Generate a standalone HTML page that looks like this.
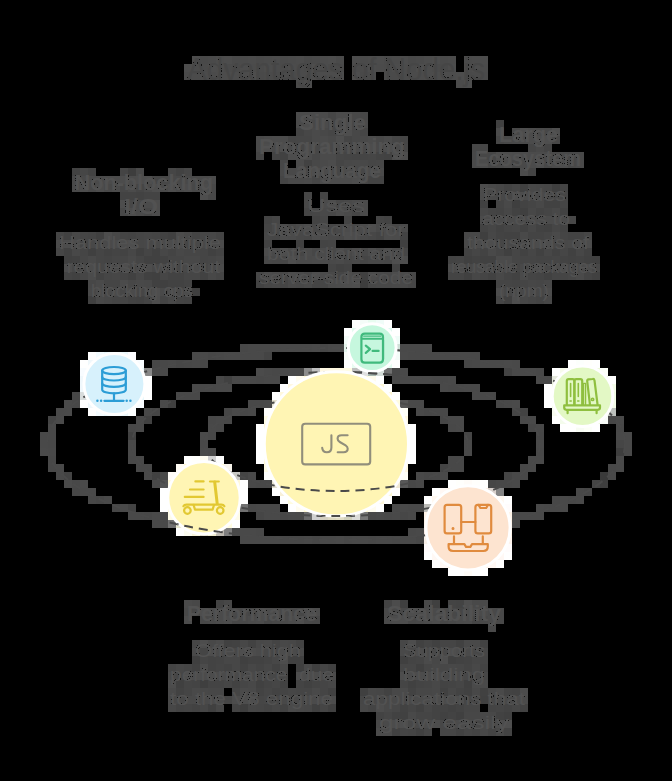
<!DOCTYPE html>
<html><head><meta charset="utf-8"><title>Advantages of Node.js</title>
<style>html,body{margin:0;padding:0;background:#000;overflow:hidden}svg{display:block}</style></head>
<body>
<svg width="672" height="781" viewBox="0 0 672 781">
<rect width="672" height="781" fill="#000"/>
<g shape-rendering="crispEdges"><path fill="#4c4c4c" d="M192 56h8v8h-8zM216 56h8v8h-8zM248 56h8v8h-8zM272 56h8v8h-8zM296 56h8v8h-8zM320 56h8v8h-8zM352 56h8v8h-8zM376 56h8v8h-8zM400 56h8v8h-8zM424 56h8v8h-8zM480 56h8v8h-8zM184 64h8v8h-8zM216 64h8v8h-8zM240 64h8v8h-8zM264 64h8v8h-8zM288 64h8v8h-8zM320 64h8v8h-8zM368 64h8v8h-8zM392 64h8v8h-8zM424 64h8v8h-8zM448 64h8v8h-8zM472 64h8v8h-8zM216 72h32v8h-32zM320 72h24v8h-24zM424 72h32v8h-32zM304 80h8v8h-8zM344 120h8v8h-8zM272 136h16v8h-16zM536 136h8v8h-8zM336 144h8v8h-8zM352 144h8v8h-8zM304 152h8v8h-8zM512 152h16v8h-16zM328 160h8v8h-8zM480 160h8v8h-8zM504 160h8v8h-8zM344 168h8v8h-8zM368 168h8v8h-8zM520 168h8v8h-8zM120 176h16v8h-16zM328 176h24v8h-24zM80 184h8v8h-8zM96 184h8v8h-8zM184 184h8v8h-8zM200 184h8v8h-8zM480 184h8v8h-8zM520 192h8v8h-8zM152 200h8v8h-8zM152 208h8v8h-8zM280 224h8v8h-8zM344 224h8v8h-8zM384 224h8v8h-8zM176 232h8v8h-8zM280 232h8v8h-8zM352 232h8v8h-8zM384 232h8v8h-8zM64 240h8v8h-8zM120 240h8v8h-8zM168 240h8v8h-8zM480 240h8v8h-8zM536 240h8v8h-8zM584 240h8v8h-8zM336 248h8v8h-8zM352 248h8v8h-8zM64 264h8v8h-8zM88 264h8v8h-8zM168 264h8v8h-8zM192 264h8v8h-8zM480 264h8v8h-8zM504 264h8v8h-8zM584 264h8v8h-8zM264 272h8v8h-8zM344 272h8v8h-8zM368 272h8v8h-8zM336 280h8v8h-8zM96 288h8v8h-8zM184 288h8v8h-8zM496 288h8v8h-8zM512 288h8v8h-8zM392 600h8v8h-8zM208 608h8v8h-8zM264 608h8v8h-8zM312 608h8v8h-8zM416 608h8v8h-8zM472 608h8v8h-8zM184 616h8v8h-8zM256 616h8v8h-8zM288 616h8v8h-8zM392 616h8v8h-8zM464 616h8v8h-8zM248 648h8v8h-8zM280 648h8v8h-8zM456 648h8v8h-8zM200 672h16v8h-16zM304 672h16v8h-16zM408 672h16v8h-16zM168 680h8v8h-8zM520 688h8v8h-8zM232 696h8v8h-8zM328 696h8v8h-8zM432 696h16v8h-16zM392 720h8v8h-8zM464 720h8v8h-8zM496 720h8v8h-8z"/><path fill="#494949" d="M200 56h8v8h-8zM304 56h8v8h-8zM408 56h8v8h-8zM232 64h8v8h-8zM336 64h8v8h-8zM440 64h8v8h-8zM256 72h8v8h-8zM360 72h8v8h-8zM464 72h8v8h-8zM336 120h8v8h-8zM536 128h8v8h-8zM256 136h8v8h-8zM328 136h8v8h-8zM360 136h8v8h-8zM512 136h8v8h-8zM256 144h8v8h-8zM272 144h8v8h-8zM360 144h8v8h-8zM376 144h8v8h-8zM552 152h16v8h-16zM352 160h8v8h-8zM496 160h8v8h-8zM520 160h8v8h-8zM136 168h8v8h-8zM288 168h8v8h-8zM328 168h8v8h-8zM352 168h8v8h-8zM80 176h16v8h-16zM184 176h16v8h-16zM288 176h16v8h-16zM72 184h8v8h-8zM160 184h8v8h-8zM176 184h8v8h-8zM488 184h8v8h-8zM488 192h8v8h-8zM544 192h8v8h-8zM136 200h8v8h-8zM344 200h8v8h-8zM504 200h8v8h-8zM320 208h8v8h-8zM272 224h8v8h-8zM336 224h8v8h-8zM376 224h8v8h-8zM184 232h8v8h-8zM328 232h8v8h-8zM360 232h8v8h-8zM520 232h8v8h-8zM96 240h8v8h-8zM152 240h8v8h-8zM200 240h8v8h-8zM464 240h8v8h-8zM512 240h8v8h-8zM568 240h8v8h-8zM272 248h8v8h-8zM376 248h8v8h-8zM488 248h8v8h-8zM88 256h8v8h-8zM128 256h8v8h-8zM328 256h8v8h-8zM352 256h8v8h-8zM80 264h8v8h-8zM104 264h8v8h-8zM184 264h8v8h-8zM208 264h8v8h-8zM496 264h8v8h-8zM520 264h8v8h-8zM328 272h8v8h-8zM352 272h8v8h-8zM136 280h8v8h-8zM288 280h8v8h-8zM392 280h16v8h-16zM160 288h8v8h-8zM176 288h8v8h-8zM96 296h8v8h-8zM248 344h64v8h-64zM328 344h16v8h-16zM400 344h32v8h-32zM192 352h16v8h-16zM224 352h40v8h-40zM408 352h72v8h-72zM168 360h8v8h-8zM192 360h8v8h-8zM480 360h24v8h-24zM512 360h8v8h-8zM160 368h8v8h-8zM264 368h8v8h-8zM280 368h24v8h-24zM400 368h8v8h-8zM512 368h24v8h-24zM232 376h24v8h-24zM264 376h16v8h-16zM392 376h40v8h-40zM448 376h8v8h-8zM536 376h16v8h-16zM192 384h8v8h-8zM216 384h16v8h-16zM440 384h8v8h-8zM464 384h16v8h-16zM160 400h8v8h-8zM264 400h8v8h-8zM408 400h16v8h-16zM504 400h8v8h-8zM56 408h8v8h-8zM248 408h8v8h-8zM416 408h8v8h-8zM136 416h8v8h-8zM216 416h8v8h-8zM448 416h16v8h-16zM520 416h16v8h-16zM616 416h8v8h-8zM48 424h8v8h-8zM136 424h8v8h-8zM208 424h8v8h-8zM456 424h8v8h-8zM40 432h16v8h-16zM616 432h16v8h-16zM40 440h8v8h-8zM128 440h8v8h-8zM464 440h8v8h-8zM536 440h8v8h-8zM624 440h8v8h-8zM48 448h8v8h-8zM128 448h8v8h-8zM200 448h8v8h-8zM464 448h8v8h-8zM624 448h8v8h-8zM528 456h16v8h-16zM616 456h8v8h-8zM56 464h8v8h-8zM528 464h8v8h-8zM616 464h8v8h-8zM56 472h8v8h-8zM144 472h8v8h-8zM160 472h8v8h-8zM248 472h8v8h-8zM416 472h8v8h-8zM608 472h8v8h-8zM152 480h8v8h-8zM248 480h8v8h-8zM416 480h8v8h-8zM512 480h8v8h-8zM80 488h16v8h-16zM104 496h8v8h-8zM560 496h8v8h-8zM576 496h8v8h-8zM120 504h8v8h-8zM256 504h24v8h-24zM392 504h8v8h-8zM408 504h16v8h-16zM536 504h8v8h-8zM560 504h8v8h-8zM128 512h16v8h-16zM160 512h8v8h-8zM264 512h16v8h-16zM288 512h16v8h-16zM376 512h8v8h-8zM392 512h8v8h-8zM408 512h8v8h-8zM512 512h32v8h-32zM152 520h16v8h-16zM232 528h24v8h-24zM416 528h8v8h-8zM240 536h40v8h-40zM304 536h8v8h-8zM320 536h16v8h-16zM352 536h16v8h-16zM376 536h16v8h-16zM400 536h16v8h-16zM424 600h8v8h-8zM472 600h16v8h-16zM232 608h8v8h-8zM280 608h8v8h-8zM384 608h8v8h-8zM440 608h8v8h-8zM488 608h8v8h-8zM208 616h8v8h-8zM240 616h8v8h-8zM416 616h8v8h-8zM448 616h8v8h-8zM488 624h8v8h-8zM264 640h8v8h-8zM464 640h16v8h-16zM192 648h8v8h-8zM224 648h8v8h-8zM296 648h8v8h-8zM400 648h8v8h-8zM432 648h8v8h-8zM304 664h8v8h-8zM240 672h16v8h-16zM448 672h16v8h-16zM168 688h8v8h-8zM192 688h8v8h-8zM248 688h8v8h-8zM312 688h8v8h-8zM184 696h16v8h-16zM288 696h16v8h-16zM392 696h16v8h-16zM496 696h16v8h-16zM384 704h8v8h-8zM408 712h8v8h-8zM416 720h8v8h-8zM448 720h8v8h-8z"/><path fill="#4a4a4a" d="M208 56h8v8h-8zM232 56h8v8h-8zM256 56h8v8h-8zM280 56h8v8h-8zM312 56h8v8h-8zM336 56h8v8h-8zM360 56h8v8h-8zM384 56h8v8h-8zM416 56h8v8h-8zM440 56h8v8h-8zM464 56h8v8h-8zM200 64h8v8h-8zM224 64h8v8h-8zM256 64h8v8h-8zM280 64h8v8h-8zM304 64h8v8h-8zM328 64h8v8h-8zM360 64h8v8h-8zM384 64h8v8h-8zM408 64h8v8h-8zM432 64h8v8h-8zM464 64h8v8h-8zM184 72h8v8h-8zM264 72h32v8h-32zM368 72h8v8h-8zM384 72h16v8h-16zM472 72h16v8h-16zM296 80h8v8h-8zM296 120h8v8h-8zM312 128h8v8h-8zM312 136h8v8h-8zM520 136h8v8h-8zM288 144h8v8h-8zM392 144h8v8h-8zM544 152h8v8h-8zM320 160h8v8h-8zM472 160h8v8h-8zM576 160h8v8h-8zM376 168h8v8h-8zM96 176h8v8h-8zM200 176h8v8h-8zM304 176h8v8h-8zM144 184h8v8h-8zM536 192h8v8h-8zM136 208h8v8h-8zM344 208h8v8h-8zM296 224h8v8h-8zM400 224h8v8h-8zM552 232h8v8h-8zM104 240h8v8h-8zM208 240h8v8h-8zM520 240h8v8h-8zM288 248h8v8h-8zM392 248h8v8h-8zM296 256h16v8h-16zM336 256h8v8h-8zM160 264h8v8h-8zM472 264h8v8h-8zM576 264h8v8h-8zM272 272h8v8h-8zM376 272h8v8h-8zM520 272h8v8h-8zM576 272h8v8h-8zM96 280h8v8h-8zM304 280h8v8h-8zM144 288h8v8h-8zM312 344h8v8h-8zM400 352h8v8h-8zM504 360h8v8h-8zM472 392h8v8h-8zM64 400h8v8h-8zM512 400h8v8h-8zM64 408h8v8h-8zM232 408h8v8h-8zM56 416h8v8h-8zM200 432h8v8h-8zM40 448h8v8h-8zM440 472h8v8h-8zM80 480h8v8h-8zM400 504h8v8h-8zM152 512h8v8h-8zM336 536h8v8h-8zM184 600h8v8h-8zM224 608h8v8h-8zM432 608h8v8h-8zM280 616h8v8h-8zM384 616h8v8h-8zM488 616h8v8h-8zM256 648h8v8h-8zM464 648h8v8h-8zM232 672h8v8h-8zM440 672h8v8h-8zM472 680h16v8h-16zM240 688h8v8h-8zM400 688h8v8h-8zM496 688h8v8h-8zM200 696h8v8h-8zM304 696h8v8h-8zM408 696h8v8h-8zM512 696h8v8h-8zM288 704h8v8h-8zM384 720h8v8h-8zM488 720h8v8h-8z"/><path fill="#4d4d4d" d="M224 56h8v8h-8zM328 56h8v8h-8zM432 56h8v8h-8zM208 64h8v8h-8zM312 64h8v8h-8zM416 64h8v8h-8zM248 72h8v8h-8zM352 72h8v8h-8zM456 72h8v8h-8zM464 80h8v8h-8zM304 120h8v8h-8zM520 128h8v8h-8zM264 144h8v8h-8zM368 144h8v8h-8zM288 152h16v8h-16zM400 152h8v8h-8zM504 152h8v8h-8zM560 160h8v8h-8zM136 176h8v8h-8zM168 184h8v8h-8zM120 200h8v8h-8zM328 200h8v8h-8zM128 208h8v8h-8zM336 208h8v8h-8zM304 224h8v8h-8zM104 232h8v8h-8zM312 232h8v8h-8zM72 240h8v8h-8zM176 240h8v8h-8zM488 240h8v8h-8zM264 248h8v8h-8zM368 248h8v8h-8zM400 256h8v8h-8zM144 264h8v8h-8zM456 264h8v8h-8zM560 264h8v8h-8zM288 272h8v8h-8zM392 272h8v8h-8zM344 280h8v8h-8zM168 288h8v8h-8zM152 296h8v8h-8zM256 608h8v8h-8zM464 608h8v8h-8zM224 616h8v8h-8zM432 616h8v8h-8zM200 640h8v8h-8zM408 640h8v8h-8zM208 648h8v8h-8zM416 648h8v8h-8zM280 656h8v8h-8zM192 672h8v8h-8zM296 672h8v8h-8zM400 672h8v8h-8zM240 696h8v8h-8zM448 696h8v8h-8zM376 704h8v8h-8zM432 720h8v8h-8z"/><path fill="#4b4b4b" d="M240 56h8v8h-8zM264 56h8v8h-8zM288 56h8v8h-8zM368 56h8v8h-8zM392 56h8v8h-8zM448 56h8v8h-8zM472 56h8v8h-8zM192 64h8v8h-8zM248 64h8v8h-8zM272 64h8v8h-8zM296 64h8v8h-8zM352 64h8v8h-8zM376 64h8v8h-8zM400 64h8v8h-8zM480 64h8v8h-8zM192 72h24v8h-24zM296 72h24v8h-24zM400 72h24v8h-24zM456 80h8v8h-8zM296 112h32v8h-32zM336 112h16v8h-16zM320 120h8v8h-8zM360 120h8v8h-8zM496 128h8v8h-8zM528 128h8v8h-8zM264 136h8v8h-8zM320 136h8v8h-8zM368 136h8v8h-8zM384 136h8v8h-8zM528 136h8v8h-8zM304 144h8v8h-8zM320 144h8v8h-8zM320 152h16v8h-16zM528 152h16v8h-16zM296 160h8v8h-8zM528 160h8v8h-8zM552 160h8v8h-8zM296 168h8v8h-8zM320 168h8v8h-8zM104 176h16v8h-16zM208 176h8v8h-8zM320 176h8v8h-8zM112 184h8v8h-8zM128 184h8v8h-8zM480 192h8v8h-8zM528 192h8v8h-8zM144 200h8v8h-8zM320 200h8v8h-8zM352 200h16v8h-16zM360 208h8v8h-8zM480 216h88v8h-88zM320 224h8v8h-8zM360 224h8v8h-8zM288 232h8v8h-8zM320 232h8v8h-8zM392 232h8v8h-8zM56 240h8v8h-8zM112 240h8v8h-8zM160 240h8v8h-8zM216 240h8v8h-8zM472 240h8v8h-8zM528 240h8v8h-8zM576 240h8v8h-8zM304 248h8v8h-8zM320 248h8v8h-8zM312 256h16v8h-16zM496 256h16v8h-16zM112 264h8v8h-8zM136 264h8v8h-8zM216 264h8v8h-8zM448 264h8v8h-8zM528 264h8v8h-8zM552 264h8v8h-8zM88 272h8v8h-8zM296 272h8v8h-8zM320 272h8v8h-8zM400 272h8v8h-8zM120 280h8v8h-8zM328 280h8v8h-8zM112 288h8v8h-8zM128 288h8v8h-8zM528 288h8v8h-8zM544 288h8v8h-8zM256 368h8v8h-8zM64 480h8v8h-8zM216 608h8v8h-8zM272 608h8v8h-8zM424 608h8v8h-8zM480 608h8v8h-8zM216 616h8v8h-8zM248 616h8v8h-8zM424 616h8v8h-8zM456 616h8v8h-8zM216 640h8v8h-8zM216 648h8v8h-8zM288 648h8v8h-8zM424 648h8v8h-8zM424 656h8v8h-8zM200 664h8v8h-8zM216 672h16v8h-16zM320 672h16v8h-16zM424 672h16v8h-16zM208 696h16v8h-16zM312 696h16v8h-16zM416 696h16v8h-16zM520 696h8v8h-8zM424 720h8v8h-8zM456 720h8v8h-8zM376 728h16v8h-16z"/><path fill="#464646" d="M328 112h8v8h-8zM328 120h8v8h-8zM328 128h8v8h-8zM360 128h8v8h-8zM296 136h16v8h-16zM392 136h8v8h-8zM496 136h8v8h-8zM296 144h8v8h-8zM400 144h8v8h-8zM480 144h8v8h-8zM336 152h8v8h-8zM368 152h8v8h-8zM488 152h8v8h-8zM368 160h8v8h-8zM512 160h8v8h-8zM80 168h8v8h-8zM168 168h8v8h-8zM184 168h8v8h-8zM336 168h8v8h-8zM152 176h8v8h-8zM312 176h8v8h-8zM360 176h8v8h-8zM136 184h8v8h-8zM512 184h8v8h-8zM544 184h8v8h-8zM304 192h8v8h-8zM560 192h8v8h-8zM312 208h8v8h-8zM352 208h8v8h-8zM272 216h8v8h-8zM328 224h8v8h-8zM488 224h8v8h-8zM512 224h8v8h-8zM552 224h8v8h-8zM144 232h8v8h-8zM272 232h8v8h-8zM544 232h8v8h-8zM584 232h8v8h-8zM80 240h8v8h-8zM184 240h8v8h-8zM496 240h8v8h-8zM56 248h8v8h-8zM184 248h16v8h-16zM296 248h8v8h-8zM400 248h8v8h-8zM472 248h8v8h-8zM512 248h8v8h-8zM528 248h8v8h-8zM560 248h8v8h-8zM80 256h8v8h-8zM112 256h16v8h-16zM168 256h16v8h-16zM208 256h8v8h-8zM280 256h8v8h-8zM384 256h8v8h-8zM512 256h8v8h-8zM96 264h8v8h-8zM200 264h8v8h-8zM512 264h8v8h-8zM80 272h8v8h-8zM104 272h8v8h-8zM160 272h8v8h-8zM184 272h16v8h-16zM336 272h8v8h-8zM320 280h8v8h-8zM408 280h8v8h-8zM536 280h8v8h-8zM136 288h8v8h-8zM496 296h8v8h-8zM224 408h8v8h-8zM512 408h8v8h-8zM440 416h8v8h-8zM528 424h8v8h-8zM616 440h8v8h-8zM488 480h8v8h-8zM584 488h8v8h-8zM96 496h8v8h-8zM112 504h8v8h-8zM256 512h8v8h-8zM248 608h8v8h-8zM456 608h8v8h-8zM264 616h8v8h-8zM472 616h8v8h-8zM192 640h8v8h-8zM272 648h8v8h-8zM480 648h8v8h-8zM472 656h8v8h-8zM400 664h16v8h-16zM424 664h8v8h-8zM176 672h8v8h-8zM280 672h8v8h-8zM224 680h8v8h-8zM240 680h8v8h-8zM272 680h8v8h-8zM456 680h8v8h-8zM264 688h8v8h-8zM288 688h8v8h-8zM376 688h8v8h-8zM256 696h8v8h-8zM360 696h8v8h-8zM464 696h8v8h-8zM200 704h8v8h-8zM248 704h8v8h-8zM272 704h8v8h-8zM464 704h16v8h-16zM512 704h8v8h-8zM384 712h8v8h-8zM472 720h8v8h-8zM440 728h16v8h-16zM464 728h8v8h-8z"/><path fill="#484848" d="M352 112h8v8h-8zM312 120h8v8h-8zM352 120h8v8h-8zM320 128h8v8h-8zM336 128h8v8h-8zM352 128h8v8h-8zM544 128h8v8h-8zM352 136h8v8h-8zM376 136h8v8h-8zM504 136h8v8h-8zM328 144h8v8h-8zM344 144h8v8h-8zM536 144h8v8h-8zM472 152h8v8h-8zM568 152h16v8h-16zM312 160h8v8h-8zM344 160h8v8h-8zM360 160h8v8h-8zM544 160h8v8h-8zM568 160h8v8h-8zM280 168h8v8h-8zM304 168h8v8h-8zM72 176h8v8h-8zM168 176h16v8h-16zM88 184h8v8h-8zM104 184h8v8h-8zM192 184h8v8h-8zM208 184h8v8h-8zM528 184h8v8h-8zM208 192h8v8h-8zM496 192h8v8h-8zM552 192h8v8h-8zM304 200h8v8h-8zM536 200h8v8h-8zM120 208h8v8h-8zM328 208h8v8h-8zM552 208h8v8h-8zM312 224h8v8h-8zM352 224h8v8h-8zM72 232h8v8h-8zM112 232h8v8h-8zM296 232h8v8h-8zM336 232h8v8h-8zM464 232h16v8h-16zM88 240h8v8h-8zM144 240h8v8h-8zM192 240h8v8h-8zM504 240h8v8h-8zM560 240h8v8h-8zM72 248h8v8h-8zM176 248h8v8h-8zM328 248h8v8h-8zM344 248h8v8h-8zM360 248h8v8h-8zM184 256h16v8h-16zM216 256h8v8h-8zM264 256h8v8h-8zM128 264h8v8h-8zM152 264h8v8h-8zM464 264h8v8h-8zM544 264h8v8h-8zM568 264h8v8h-8zM208 272h8v8h-8zM280 272h8v8h-8zM304 272h8v8h-8zM384 272h8v8h-8zM408 272h8v8h-8zM496 272h8v8h-8zM144 280h8v8h-8zM272 280h8v8h-8zM296 280h8v8h-8zM376 280h16v8h-16zM544 280h8v8h-8zM88 288h8v8h-8zM104 288h8v8h-8zM504 288h8v8h-8zM520 288h8v8h-8zM168 296h8v8h-8zM240 344h8v8h-8zM216 352h8v8h-8zM160 360h8v8h-8zM184 360h8v8h-8zM472 360h8v8h-8zM152 368h8v8h-8zM272 368h8v8h-8zM392 368h8v8h-8zM536 368h8v8h-8zM256 376h8v8h-8zM432 376h16v8h-16zM200 384h16v8h-16zM448 384h16v8h-16zM176 392h24v8h-24zM480 392h16v8h-16zM72 400h8v8h-8zM248 400h16v8h-16zM144 408h8v8h-8zM240 408h8v8h-8zM432 408h16v8h-16zM208 416h8v8h-8zM224 416h8v8h-8zM128 424h8v8h-8zM216 424h8v8h-8zM448 424h8v8h-8zM536 424h8v8h-8zM616 424h8v8h-8zM208 432h8v8h-8zM48 440h8v8h-8zM200 440h8v8h-8zM208 448h8v8h-8zM536 448h8v8h-8zM48 456h8v8h-8zM128 456h16v8h-16zM448 456h16v8h-16zM48 464h8v8h-8zM136 464h16v8h-16zM448 464h16v8h-16zM520 464h8v8h-8zM608 464h8v8h-8zM432 472h8v8h-8zM512 472h16v8h-16zM72 480h8v8h-8zM256 480h16v8h-16zM496 480h16v8h-16zM576 488h8v8h-8zM88 496h8v8h-8zM568 496h8v8h-8zM248 504h8v8h-8zM544 504h16v8h-16zM144 512h8v8h-8zM368 512h8v8h-8zM384 512h8v8h-8zM512 520h8v8h-8zM256 528h8v8h-8zM408 528h8v8h-8zM280 536h24v8h-24zM344 536h8v8h-8zM368 536h8v8h-8zM392 536h8v8h-8zM192 600h8v8h-8zM184 608h8v8h-8zM240 608h8v8h-8zM288 608h8v8h-8zM392 608h8v8h-8zM448 608h8v8h-8zM496 608h8v8h-8zM200 616h8v8h-8zM272 616h8v8h-8zM304 616h8v8h-8zM408 616h8v8h-8zM480 616h8v8h-8zM496 616h8v8h-8zM208 640h8v8h-8zM256 640h8v8h-8zM280 640h8v8h-8zM232 648h8v8h-8zM264 648h8v8h-8zM440 648h8v8h-8zM472 648h8v8h-8zM280 664h8v8h-8zM432 664h8v8h-8zM448 664h8v8h-8zM472 664h8v8h-8zM256 672h16v8h-16zM464 672h16v8h-16zM248 680h8v8h-8zM432 680h8v8h-8zM200 688h8v8h-8zM392 688h8v8h-8zM432 688h8v8h-8zM472 688h8v8h-8zM488 688h8v8h-8zM168 696h16v8h-16zM272 696h16v8h-16zM376 696h16v8h-16zM488 696h8v8h-8zM296 704h8v8h-8zM480 712h16v8h-16zM376 720h8v8h-8zM408 720h8v8h-8zM480 720h8v8h-8zM480 728h8v8h-8zM496 728h8v8h-8z"/><path fill="#474747" d="M360 112h8v8h-8zM304 128h8v8h-8zM512 128h8v8h-8zM552 136h8v8h-8zM312 144h8v8h-8zM472 144h8v8h-8zM312 152h8v8h-8zM480 152h8v8h-8zM280 160h8v8h-8zM376 160h8v8h-8zM488 160h8v8h-8zM360 168h8v8h-8zM160 176h8v8h-8zM120 184h8v8h-8zM496 184h8v8h-8zM536 184h8v8h-8zM504 192h8v8h-8zM128 200h8v8h-8zM336 200h8v8h-8zM144 208h8v8h-8zM480 208h8v8h-8zM504 208h8v8h-8zM528 208h8v8h-8zM320 216h8v8h-8zM568 216h8v8h-8zM288 224h8v8h-8zM392 224h8v8h-8zM528 224h8v8h-8zM200 232h16v8h-16zM264 232h8v8h-8zM304 232h8v8h-8zM368 232h8v8h-8zM488 232h8v8h-8zM136 240h8v8h-8zM552 240h8v8h-8zM128 248h8v8h-8zM160 248h8v8h-8zM312 248h8v8h-8zM544 248h8v8h-8zM576 248h8v8h-8zM272 256h8v8h-8zM344 256h8v8h-8zM368 256h16v8h-16zM72 264h8v8h-8zM176 264h8v8h-8zM488 264h8v8h-8zM592 264h8v8h-8zM112 272h8v8h-8zM136 272h8v8h-8zM256 272h8v8h-8zM472 272h8v8h-8zM568 272h8v8h-8zM88 280h8v8h-8zM128 280h8v8h-8zM264 280h8v8h-8zM368 280h8v8h-8zM528 280h8v8h-8zM120 288h8v8h-8zM536 288h8v8h-8zM104 296h8v8h-8zM520 296h8v8h-8zM544 296h8v8h-8zM320 344h8v8h-8zM208 352h8v8h-8zM152 360h8v8h-8zM176 360h8v8h-8zM200 360h8v8h-8zM464 360h8v8h-8zM216 376h8v8h-8zM72 392h8v8h-8zM496 400h8v8h-8zM424 408h8v8h-8zM608 416h8v8h-8zM536 432h8v8h-8zM424 472h8v8h-8zM408 480h8v8h-8zM72 488h8v8h-8zM552 496h8v8h-8zM280 512h8v8h-8zM400 512h8v8h-8zM312 536h8v8h-8zM416 536h8v8h-8zM224 600h8v8h-8zM192 608h8v8h-8zM296 608h8v8h-8zM400 608h8v8h-8zM232 616h8v8h-8zM312 616h8v8h-8zM440 616h8v8h-8zM240 640h8v8h-8zM288 640h8v8h-8zM400 640h8v8h-8zM408 648h8v8h-8zM224 656h16v8h-16zM272 656h8v8h-8zM432 656h8v8h-8zM176 664h8v8h-8zM232 664h8v8h-8zM248 664h8v8h-8zM264 664h8v8h-8zM440 664h8v8h-8zM456 664h8v8h-8zM168 672h8v8h-8zM272 672h8v8h-8zM480 672h8v8h-8zM328 680h8v8h-8zM208 688h16v8h-16zM368 688h8v8h-8zM416 688h16v8h-16zM448 688h8v8h-8zM264 696h8v8h-8zM368 696h8v8h-8zM472 696h8v8h-8zM168 704h8v8h-8zM216 704h8v8h-8zM304 704h8v8h-8zM360 704h8v8h-8zM392 704h8v8h-8zM424 704h8v8h-8zM464 712h16v8h-16zM440 720h8v8h-8z"/><path fill="#414141" d="M496 120h8v8h-8zM280 152h8v8h-8zM480 200h8v8h-8zM544 224h8v8h-8zM64 232h8v8h-8zM64 248h8v8h-8zM152 248h8v8h-8zM208 248h8v8h-8zM536 248h8v8h-8zM568 248h8v8h-8zM72 256h8v8h-8zM144 256h16v8h-16zM480 256h16v8h-16zM584 256h8v8h-8zM336 264h8v8h-8zM72 272h8v8h-8zM128 272h8v8h-8zM144 272h8v8h-8zM544 272h8v8h-8zM592 272h8v8h-8zM152 280h8v8h-8zM136 296h8v8h-8zM224 376h8v8h-8zM144 416h8v8h-8zM128 432h8v8h-8zM152 472h8v8h-8zM224 640h8v8h-8zM416 640h8v8h-8zM432 640h8v8h-8zM456 640h8v8h-8zM192 664h8v8h-8zM328 664h8v8h-8zM256 680h8v8h-8zM304 680h8v8h-8zM408 680h8v8h-8zM328 688h8v8h-8zM440 688h8v8h-8zM464 688h8v8h-8zM480 688h8v8h-8zM416 704h8v8h-8zM448 704h8v8h-8zM400 712h8v8h-8zM440 712h8v8h-8zM392 728h8v8h-8z"/><path fill="#434343" d="M296 128h8v8h-8zM376 152h8v8h-8zM368 176h16v8h-16zM504 184h8v8h-8zM120 192h16v8h-16zM520 200h8v8h-8zM496 208h8v8h-8zM536 208h8v8h-8zM264 216h8v8h-8zM312 216h8v8h-8zM384 216h8v8h-8zM480 224h8v8h-8zM560 224h8v8h-8zM128 232h8v8h-8zM400 232h8v8h-8zM496 232h8v8h-8zM568 232h16v8h-16zM264 240h8v8h-8zM120 248h8v8h-8zM480 248h8v8h-8zM448 256h8v8h-8zM560 256h8v8h-8zM576 256h8v8h-8zM344 264h8v8h-8zM64 272h8v8h-8zM168 272h16v8h-16zM256 280h8v8h-8zM184 296h8v8h-8zM536 296h8v8h-8zM504 368h8v8h-8zM520 408h8v8h-8zM64 472h8v8h-8zM128 504h8v8h-8zM216 600h8v8h-8zM384 600h8v8h-8zM456 600h8v8h-8zM296 640h8v8h-8zM208 656h8v8h-8zM464 656h8v8h-8zM208 664h8v8h-8zM224 664h8v8h-8zM480 664h8v8h-8zM440 680h8v8h-8zM256 688h8v8h-8zM272 688h8v8h-8zM408 688h8v8h-8zM456 688h8v8h-8zM504 688h8v8h-8zM176 704h8v8h-8zM232 704h8v8h-8zM264 704h8v8h-8zM432 704h16v8h-16zM456 704h8v8h-8zM504 704h8v8h-8zM376 712h8v8h-8zM432 712h8v8h-8zM448 712h8v8h-8zM504 728h8v8h-8z"/><path fill="#4e4e4e" d="M344 128h8v8h-8zM552 128h8v8h-8zM336 136h8v8h-8zM544 136h8v8h-8zM280 144h8v8h-8zM384 144h8v8h-8zM392 152h8v8h-8zM496 152h8v8h-8zM536 160h8v8h-8zM312 168h8v8h-8zM144 176h8v8h-8zM352 176h8v8h-8zM152 184h8v8h-8zM200 192h8v8h-8zM512 192h8v8h-8zM368 224h8v8h-8zM344 232h8v8h-8zM128 240h8v8h-8zM544 240h8v8h-8zM280 248h8v8h-8zM384 248h8v8h-8zM288 256h8v8h-8zM392 256h8v8h-8zM120 264h8v8h-8zM536 264h8v8h-8zM312 272h8v8h-8zM352 280h8v8h-8zM152 288h8v8h-8zM512 296h8v8h-8zM464 600h8v8h-8zM200 608h8v8h-8zM304 608h8v8h-8zM408 608h8v8h-8zM296 616h8v8h-8zM400 616h8v8h-8zM240 648h8v8h-8zM448 648h8v8h-8zM440 656h8v8h-8zM184 672h8v8h-8zM248 696h8v8h-8zM456 696h8v8h-8zM400 720h8v8h-8zM504 720h8v8h-8z"/><path fill="#454545" d="M288 136h8v8h-8zM344 136h8v8h-8zM400 136h8v8h-8zM528 144h8v8h-8zM256 152h8v8h-8zM344 152h8v8h-8zM360 152h8v8h-8zM336 160h8v8h-8zM280 176h8v8h-8zM320 192h8v8h-8zM528 200h8v8h-8zM560 200h8v8h-8zM304 208h8v8h-8zM544 208h8v8h-8zM376 216h8v8h-8zM264 224h8v8h-8zM504 224h8v8h-8zM56 232h8v8h-8zM80 232h8v8h-8zM136 232h8v8h-8zM152 232h8v8h-8zM560 232h8v8h-8zM328 240h8v8h-8zM80 248h8v8h-8zM96 248h8v8h-8zM144 248h8v8h-8zM200 248h8v8h-8zM496 248h8v8h-8zM96 256h8v8h-8zM136 256h8v8h-8zM200 256h8v8h-8zM360 256h8v8h-8zM520 256h16v8h-16zM552 256h8v8h-8zM328 264h8v8h-8zM216 272h8v8h-8zM480 272h8v8h-8zM528 272h8v8h-8zM552 272h16v8h-16zM104 280h16v8h-16zM280 280h8v8h-8zM312 280h8v8h-8zM496 280h16v8h-16zM520 280h8v8h-8zM112 296h16v8h-16zM528 296h8v8h-8zM152 408h8v8h-8zM464 432h8v8h-8zM240 472h8v8h-8zM592 480h8v8h-8zM424 640h8v8h-8zM440 640h16v8h-16zM200 648h8v8h-8zM200 656h8v8h-8zM416 656h8v8h-8zM480 656h8v8h-8zM184 664h8v8h-8zM216 664h8v8h-8zM320 664h8v8h-8zM184 680h8v8h-8zM320 680h8v8h-8zM400 680h8v8h-8zM424 680h8v8h-8zM184 688h8v8h-8zM232 688h8v8h-8zM296 688h16v8h-16zM320 688h8v8h-8zM224 696h8v8h-8zM256 704h8v8h-8zM320 704h8v8h-8zM408 704h8v8h-8zM496 704h8v8h-8zM416 712h16v8h-16zM400 728h8v8h-8zM424 728h8v8h-8z"/><path fill="#444444" d="M544 144h8v8h-8zM272 152h8v8h-8zM352 152h8v8h-8zM120 168h8v8h-8zM528 168h8v8h-8zM560 184h8v8h-8zM144 192h16v8h-16zM496 200h8v8h-8zM488 208h8v8h-8zM344 216h8v8h-8zM88 232h8v8h-8zM120 232h8v8h-8zM192 232h8v8h-8zM216 232h8v8h-8zM376 232h8v8h-8zM528 232h16v8h-16zM320 240h8v8h-8zM112 248h8v8h-8zM168 248h8v8h-8zM216 248h8v8h-8zM104 256h8v8h-8zM456 256h8v8h-8zM536 256h16v8h-16zM120 272h8v8h-8zM448 272h16v8h-16zM504 272h8v8h-8zM536 272h8v8h-8zM584 272h8v8h-8zM184 280h8v8h-8zM512 280h8v8h-8zM144 296h8v8h-8zM160 296h8v8h-8zM176 296h8v8h-8zM264 352h8v8h-8zM48 416h8v8h-8zM440 464h8v8h-8zM504 472h8v8h-8zM448 600h8v8h-8zM272 640h8v8h-8zM216 656h8v8h-8zM264 656h8v8h-8zM408 656h8v8h-8zM168 664h8v8h-8zM256 664h8v8h-8zM464 664h8v8h-8zM192 680h8v8h-8zM208 680h16v8h-16zM264 680h8v8h-8zM296 680h8v8h-8zM312 680h8v8h-8zM416 680h8v8h-8zM448 680h8v8h-8zM280 688h8v8h-8zM184 704h8v8h-8zM368 704h8v8h-8zM488 704h8v8h-8zM408 728h8v8h-8zM472 728h8v8h-8zM488 728h8v8h-8z"/><path fill="#424242" d="M384 152h8v8h-8zM304 160h8v8h-8zM72 168h8v8h-8zM88 168h8v8h-8zM176 168h8v8h-8zM136 192h8v8h-8zM544 200h16v8h-16zM512 208h8v8h-8zM560 208h8v8h-8zM496 224h8v8h-8zM520 224h8v8h-8zM536 224h8v8h-8zM160 232h8v8h-8zM504 232h16v8h-16zM104 248h8v8h-8zM464 248h8v8h-8zM520 248h8v8h-8zM552 248h8v8h-8zM584 248h8v8h-8zM160 256h8v8h-8zM472 256h8v8h-8zM568 256h8v8h-8zM392 264h8v8h-8zM96 272h8v8h-8zM200 272h8v8h-8zM488 272h8v8h-8zM512 272h8v8h-8zM168 280h16v8h-16zM128 296h8v8h-8zM232 640h8v8h-8zM248 640h8v8h-8zM480 640h8v8h-8zM248 656h16v8h-16zM456 656h8v8h-8zM240 664h8v8h-8zM272 664h8v8h-8zM232 680h8v8h-8zM280 680h8v8h-8zM176 688h8v8h-8zM384 688h8v8h-8zM512 688h8v8h-8zM192 704h8v8h-8zM280 704h8v8h-8zM400 704h8v8h-8zM520 704h8v8h-8zM392 712h8v8h-8zM496 712h8v8h-8zM456 728h8v8h-8z"/><path fill="#3d3d3d" d="M128 168h8v8h-8zM360 280h8v8h-8z"/><path fill="#404040" d="M520 184h8v8h-8zM520 208h8v8h-8zM96 232h8v8h-8zM168 232h8v8h-8zM296 240h8v8h-8zM400 240h8v8h-8zM88 248h8v8h-8zM136 248h8v8h-8zM504 248h8v8h-8zM64 256h8v8h-8zM464 256h8v8h-8zM592 256h8v8h-8zM152 272h8v8h-8zM360 272h8v8h-8zM464 272h8v8h-8zM160 280h8v8h-8zM88 296h8v8h-8zM504 296h8v8h-8zM168 400h8v8h-8zM432 600h8v8h-8zM240 656h8v8h-8zM288 656h16v8h-16zM400 656h8v8h-8zM448 656h8v8h-8zM312 664h8v8h-8zM416 664h8v8h-8zM176 680h8v8h-8zM464 680h8v8h-8zM360 688h8v8h-8zM480 696h8v8h-8zM208 704h8v8h-8zM312 704h8v8h-8zM328 704h8v8h-8zM456 712h8v8h-8zM504 712h8v8h-8zM416 728h8v8h-8z"/><path fill="#3f3f3f" d="M552 184h8v8h-8zM512 200h8v8h-8zM480 232h8v8h-8zM192 288h8v8h-8zM400 600h8v8h-8zM192 656h8v8h-8zM296 664h8v8h-8zM200 680h8v8h-8z"/><path fill="#ffffff" d="M352 320h8v8h-8zM384 320h8v8h-8zM344 328h8v8h-8zM392 328h8v8h-8zM88 352h8v8h-8zM80 360h8v8h-8zM344 360h8v8h-8zM392 360h8v8h-8zM568 360h8v8h-8zM592 360h8v8h-8zM552 368h8v8h-8zM144 376h8v8h-8zM288 376h8v8h-8zM376 376h8v8h-8zM608 376h8v8h-8zM144 384h8v8h-8zM280 384h8v8h-8zM384 384h8v8h-8zM544 384h8v8h-8zM144 392h8v8h-8zM272 392h8v8h-8zM392 392h8v8h-8zM544 392h8v8h-8zM80 400h8v8h-8zM544 400h8v8h-8zM88 408h8v8h-8zM552 416h8v8h-8zM256 424h8v8h-8zM408 424h8v8h-8zM560 424h16v8h-16zM592 424h8v8h-8zM256 432h8v8h-8zM408 432h8v8h-8zM256 440h8v8h-8zM408 440h8v8h-8zM256 448h8v8h-8zM408 448h8v8h-8zM184 456h8v8h-8zM256 456h8v8h-8zM408 456h8v8h-8zM240 480h8v8h-8zM448 480h8v8h-8zM480 480h8v8h-8zM160 488h8v8h-8zM240 488h8v8h-8zM272 488h8v8h-8zM392 488h8v8h-8zM432 488h8v8h-8zM160 496h8v8h-8zM240 496h8v8h-8zM280 496h8v8h-8zM384 496h8v8h-8zM424 496h8v8h-8zM504 496h8v8h-8zM160 504h8v8h-8zM288 504h8v8h-8zM376 504h8v8h-8zM232 520h8v8h-8zM176 528h8v8h-8zM424 552h8v8h-8zM504 552h8v8h-8zM432 560h8v8h-8zM496 560h8v8h-8zM448 568h16v8h-16zM472 568h16v8h-16z"/><path fill="#f4fcf8" d="M360 320h8v8h-8zM344 336h8v8h-8zM392 352h8v8h-8z"/><path fill="#e8fcf0" d="M368 320h8v8h-8zM352 360h8v8h-8z"/><path fill="#f0fcf8" d="M376 320h8v8h-8zM392 336h8v8h-8z"/><path fill="#e4fcf0" d="M352 328h8v8h-8zM384 360h8v8h-8z"/><path fill="#9ce4c0" d="M360 328h8v8h-8z"/><path fill="#98e0bc" d="M368 328h8v8h-8zM368 336h8v8h-8zM360 352h8v8h-8z"/><path fill="#98e4c0" d="M376 328h8v8h-8zM368 344h8v8h-8z"/><path fill="#e0f8f0" d="M384 328h8v8h-8z"/><path fill="#c8f8e0" d="M352 336h8v8h-8zM352 344h8v8h-8zM352 352h8v8h-8z"/><path fill="#80d8ac" d="M360 336h8v8h-8zM376 336h8v8h-8z"/><path fill="#c4f4dc" d="M384 336h8v8h-8zM384 352h8v8h-8z"/><path fill="#e4f4ec" d="M344 344h8v8h-8z"/><path fill="#88d8b0" d="M360 344h8v8h-8z"/><path fill="#90e0b8" d="M376 344h8v8h-8z"/><path fill="#c0f4dc" d="M384 344h8v8h-8z"/><path fill="#d0e0d8" d="M392 344h8v8h-8z"/><path fill="#f4fcff" d="M96 352h8v8h-8zM96 408h8v8h-8z"/><path fill="#e8f8fc" d="M104 352h16v8h-16zM136 368h8v8h-8zM136 392h8v8h-8zM104 408h16v8h-16z"/><path fill="#ecf8fc" d="M120 352h8v8h-8zM120 408h8v8h-8z"/><path fill="#fcfcff" d="M128 352h8v8h-8z"/><path fill="#f8fcf8" d="M344 352h8v8h-8zM600 416h8v8h-8z"/><path fill="#c4f8dc" d="M368 352h8v8h-8z"/><path fill="#a0e8c4" d="M376 352h8v8h-8z"/><path fill="#f0f8fc" d="M88 360h8v8h-8zM80 376h8v8h-8zM80 384h8v8h-8zM88 400h8v8h-8z"/><path fill="#d8f0fc" d="M96 360h8v8h-8zM88 368h8v8h-8zM128 368h8v8h-8zM88 376h8v8h-8zM128 376h8v8h-8zM88 384h8v8h-8zM128 384h8v8h-8zM88 392h8v8h-8z"/><path fill="#b8e0f4" d="M104 360h8v8h-8z"/><path fill="#b0dcf4" d="M112 360h8v8h-8z"/><path fill="#c8ecf8" d="M120 360h8v8h-8z"/><path fill="#e0f4fc" d="M128 360h8v8h-8z"/><path fill="#f8fcff" d="M136 360h8v8h-8zM80 368h8v8h-8zM136 400h8v8h-8z"/><path fill="#a0e4c4" d="M360 360h8v8h-8z"/><path fill="#a0e4c0" d="M368 360h16v8h-16z"/><path fill="#fcfffc" d="M576 360h8v8h-8z"/><path fill="#fffffc" d="M584 360h8v8h-8zM264 408h8v8h-8zM192 456h8v8h-8zM264 472h8v8h-8zM456 480h8v8h-8zM472 480h8v8h-8z"/><path fill="#a0d8f0" d="M96 368h8v8h-8zM112 368h8v8h-8zM96 376h8v8h-8zM96 384h8v8h-8z"/><path fill="#98d0ec" d="M104 368h8v8h-8z"/><path fill="#7cc4e8" d="M120 368h8v8h-8z"/><path fill="#888888" d="M144 368h8v8h-8z"/><path fill="#8c8c8c" d="M304 368h8v8h-8z"/><path fill="#c0c0c0" d="M312 368h8v8h-8zM352 368h8v8h-8z"/><path fill="#fff8e4" d="M320 368h8v8h-8z"/><path fill="#fff8e0" d="M328 368h16v8h-16zM288 384h8v8h-8zM400 416h8v8h-8zM400 464h8v8h-8z"/><path fill="#fffce4" d="M344 368h8v8h-8zM264 416h8v8h-8zM264 464h8v8h-8z"/><path fill="#e0e0e0" d="M360 368h8v8h-8z"/><path fill="#a8b8b0" d="M368 368h8v8h-8z"/><path fill="#d4dcd8" d="M376 368h8v8h-8z"/><path fill="#707070" d="M384 368h8v8h-8zM240 504h8v8h-8zM168 520h8v8h-8z"/><path fill="#f8fcec" d="M560 368h8v8h-8z"/><path fill="#e8f8d0" d="M568 368h8v8h-8zM600 376h8v8h-8zM552 392h8v8h-8zM600 408h8v8h-8z"/><path fill="#e4f8c4" d="M576 368h8v8h-8zM600 384h8v8h-8zM600 392h8v8h-8zM576 416h16v8h-16z"/><path fill="#e4f8c8" d="M584 368h8v8h-8z"/><path fill="#ecf8d8" d="M592 368h8v8h-8zM552 384h8v8h-8zM552 400h8v8h-8zM592 416h8v8h-8z"/><path fill="#fcfff8" d="M600 368h8v8h-8zM584 424h8v8h-8z"/><path fill="#a8d8f0" d="M104 376h8v8h-8z"/><path fill="#acdcf0" d="M112 376h8v8h-8zM104 392h8v8h-8zM104 400h16v8h-16z"/><path fill="#88c8e8" d="M120 376h8v8h-8z"/><path fill="#dcf0fc" d="M136 376h8v8h-8zM136 384h8v8h-8z"/><path fill="#fffcf0" d="M296 376h8v8h-8zM200 456h8v8h-8zM296 504h8v8h-8zM368 504h8v8h-8z"/><path fill="#fff8d0" d="M304 376h8v8h-8zM360 376h8v8h-8zM400 456h8v8h-8zM184 464h8v8h-8zM216 464h8v8h-8zM168 504h8v8h-8zM232 504h8v8h-8zM304 504h8v8h-8zM360 504h8v8h-8z"/><path fill="#fff4b8" d="M312 376h8v8h-8zM352 376h8v8h-8zM296 384h8v8h-8zM192 464h8v8h-8zM208 464h8v8h-8zM296 496h8v8h-8zM368 496h8v8h-8zM312 504h8v8h-8zM352 504h8v8h-8zM216 520h8v8h-8z"/><path fill="#fff4b4" d="M320 376h32v8h-32zM304 384h72v8h-72zM288 392h96v8h-96zM280 400h112v8h-112zM280 408h112v8h-112zM272 416h24v8h-24zM376 416h24v8h-24zM272 424h24v8h-24zM376 424h24v8h-24zM272 432h24v8h-24zM304 432h24v8h-24zM352 432h16v8h-16zM376 432h24v8h-24zM272 440h24v8h-24zM304 440h16v8h-16zM352 440h16v8h-16zM376 440h24v8h-24zM272 448h24v8h-24zM304 448h16v8h-16zM352 448h16v8h-16zM376 448h24v8h-24zM272 456h24v8h-24zM376 456h24v8h-24zM200 464h8v8h-8zM272 464h24v8h-24zM376 464h24v8h-24zM184 472h40v8h-40zM280 472h112v8h-112zM176 480h16v8h-16zM224 480h8v8h-8zM296 480h80v8h-80zM176 488h8v8h-8zM224 488h8v8h-8zM176 496h8v8h-8zM224 496h8v8h-8zM304 496h64v8h-64zM320 504h32v8h-32zM176 512h8v8h-8zM192 512h24v8h-24zM224 512h8v8h-8zM200 520h16v8h-16z"/><path fill="#fffcec" d="M368 376h8v8h-8z"/><path fill="#e4e8dc" d="M552 376h8v8h-8z"/><path fill="#d4ecb0" d="M560 376h8v8h-8z"/><path fill="#bcdc88" d="M568 376h8v8h-8zM584 384h8v8h-8zM568 392h8v8h-8z"/><path fill="#c0e090" d="M576 376h8v8h-8zM592 408h8v8h-8z"/><path fill="#c8e498" d="M584 376h8v8h-8z"/><path fill="#d0e8a4" d="M592 376h8v8h-8z"/><path fill="#9cd4f0" d="M104 384h8v8h-8z"/><path fill="#a4d8f0" d="M112 384h8v8h-8z"/><path fill="#80c8e8" d="M120 384h8v8h-8z"/><path fill="#fff8d8" d="M376 384h8v8h-8zM384 392h8v8h-8zM168 480h8v8h-8zM232 480h8v8h-8z"/><path fill="#cce8a0" d="M560 384h8v8h-8zM592 384h8v8h-8zM560 392h8v8h-8zM576 408h16v8h-16z"/><path fill="#b8d87c" d="M568 384h8v8h-8zM576 400h8v8h-8z"/><path fill="#b4d878" d="M576 384h8v8h-8z"/><path fill="#f4fce8" d="M608 384h8v8h-8zM608 400h8v8h-8z"/><path fill="#d8dcdc" d="M80 392h8v8h-8z"/><path fill="#d0ecf8" d="M96 392h8v8h-8z"/><path fill="#84c8e8" d="M112 392h8v8h-8z"/><path fill="#c0e8f8" d="M120 392h8v8h-8z"/><path fill="#d4f0fc" d="M128 392h8v8h-8z"/><path fill="#fff8dc" d="M280 392h8v8h-8zM376 496h8v8h-8z"/><path fill="#b8dc84" d="M576 392h8v8h-8z"/><path fill="#b8d880" d="M584 392h8v8h-8zM568 400h8v8h-8z"/><path fill="#c4e494" d="M592 392h8v8h-8zM560 400h8v8h-8z"/><path fill="#f0fce4" d="M608 392h8v8h-8z"/><path fill="#c0e4f8" d="M96 400h8v8h-8z"/><path fill="#b4e0f4" d="M120 400h8v8h-8z"/><path fill="#d4f0f8" d="M128 400h8v8h-8z"/><path fill="#e4e0d0" d="M272 400h8v8h-8zM272 480h8v8h-8z"/><path fill="#fffce0" d="M392 400h8v8h-8zM288 496h8v8h-8zM224 520h8v8h-8z"/><path fill="#565656" d="M400 400h8v8h-8z"/><path fill="#b4d87c" d="M584 400h8v8h-8z"/><path fill="#b8dc80" d="M592 400h8v8h-8z"/><path fill="#e0f4bc" d="M600 400h8v8h-8z"/><path fill="#fcffff" d="M128 408h8v8h-8z"/><path fill="#fff8c0" d="M272 408h8v8h-8zM400 432h8v8h-8zM400 440h8v8h-8zM400 448h8v8h-8zM176 472h8v8h-8zM224 472h8v8h-8zM272 472h8v8h-8zM168 496h8v8h-8zM232 496h8v8h-8z"/><path fill="#fff4bc" d="M392 408h8v8h-8z"/><path fill="#fffff8" d="M400 408h8v8h-8zM400 472h8v8h-8z"/><path fill="#f8fcf0" d="M552 408h8v8h-8z"/><path fill="#d0e8a8" d="M560 408h8v8h-8z"/><path fill="#c8e898" d="M568 408h8v8h-8z"/><path fill="#bcc0bc" d="M608 408h8v8h-8z"/><path fill="#fcf0b0" d="M296 416h8v8h-8zM368 416h8v8h-8zM320 440h8v8h-8zM296 464h8v8h-8zM376 480h8v8h-8z"/><path fill="#ece4ac" d="M304 416h64v8h-64z"/><path fill="#f4fcec" d="M560 416h8v8h-8z"/><path fill="#e8f8cc" d="M568 416h8v8h-8z"/><path fill="#fff8d4" d="M264 424h8v8h-8zM264 456h8v8h-8z"/><path fill="#e0d8a4" d="M296 424h8v8h-8zM368 424h8v8h-8zM296 432h8v8h-8zM368 432h8v8h-8zM296 440h8v8h-8zM328 440h16v8h-16zM368 440h8v8h-8zM296 448h8v8h-8zM320 448h8v8h-8zM368 448h8v8h-8zM296 456h8v8h-8zM368 456h8v8h-8z"/><path fill="#f4ecb0" d="M304 424h64v8h-64zM304 456h64v8h-64z"/><path fill="#fff8cc" d="M400 424h8v8h-8z"/><path fill="#f8fcf4" d="M576 424h8v8h-8z"/><path fill="#fff8c8" d="M264 432h8v8h-8zM264 448h8v8h-8zM232 488h8v8h-8z"/><path fill="#ece0a8" d="M328 432h8v8h-8z"/><path fill="#dcd4a0" d="M336 432h8v8h-8zM280 480h8v8h-8zM384 480h8v8h-8z"/><path fill="#f0e8ac" d="M344 432h8v8h-8zM320 488h8v8h-8zM376 488h8v8h-8z"/><path fill="#fff8c4" d="M264 440h8v8h-8zM168 488h8v8h-8z"/><path fill="#ece4a8" d="M344 440h8v8h-8z"/><path fill="#e8e0a8" d="M328 448h24v8h-24zM304 464h64v8h-64zM336 488h8v8h-8z"/><path fill="#3e3e3e" d="M616 448h8v8h-8zM600 480h8v8h-8zM240 704h8v8h-8z"/><path fill="#d0d0d0" d="M208 456h8v8h-8zM312 512h8v8h-8z"/><path fill="#fcfcfc" d="M216 456h8v8h-8z"/><path fill="#fffcf4" d="M176 464h8v8h-8z"/><path fill="#f8f4ec" d="M224 464h8v8h-8z"/><path fill="#000000" d="M232 464h8v8h-8z"/><path fill="#f8f0b0" d="M368 464h8v8h-8zM288 480h8v8h-8zM288 488h8v8h-8zM192 520h8v8h-8z"/><path fill="#fffcf8" d="M168 472h8v8h-8zM464 480h8v8h-8zM464 568h8v8h-8z"/><path fill="#c8c8c4" d="M232 472h8v8h-8z"/><path fill="#fff8bc" d="M392 472h8v8h-8z"/><path fill="#3a3a3a" d="M600 472h8v8h-8z"/><path fill="#535353" d="M160 480h8v8h-8z"/><path fill="#f8ec9c" d="M192 480h8v8h-8zM216 488h8v8h-8z"/><path fill="#f8eca0" d="M200 480h8v8h-8zM216 480h8v8h-8zM200 488h8v8h-8z"/><path fill="#f0e07c" d="M208 480h8v8h-8z"/><path fill="#f0e8d4" d="M392 480h8v8h-8z"/><path fill="#585858" d="M400 480h8v8h-8z"/><path fill="#fcf0a4" d="M184 488h8v8h-8z"/><path fill="#f8e890" d="M192 488h8v8h-8z"/><path fill="#f8ec98" d="M208 488h8v8h-8zM200 496h8v8h-8z"/><path fill="#f8f0d8" d="M280 488h8v8h-8z"/><path fill="#d0c898" d="M296 488h8v8h-8z"/><path fill="#f4e8ac" d="M304 488h8v8h-8z"/><path fill="#d4cc98" d="M312 488h8v8h-8z"/><path fill="#d8d09c" d="M328 488h8v8h-8z"/><path fill="#e0d8a0" d="M344 488h8v8h-8zM368 488h8v8h-8z"/><path fill="#e4dca4" d="M352 488h16v8h-16z"/><path fill="#fcf8d4" d="M384 488h8v8h-8z"/><path fill="#fff8f4" d="M440 488h8v8h-8zM432 552h8v8h-8zM496 552h8v8h-8zM440 560h8v8h-8zM488 560h8v8h-8z"/><path fill="#fcece0" d="M448 488h8v8h-8zM480 488h8v8h-8z"/><path fill="#fce4d0" d="M456 488h24v8h-24zM440 496h8v8h-8zM464 496h8v8h-8zM488 496h8v8h-8zM464 504h8v8h-8zM432 512h8v8h-8zM448 512h8v8h-8zM464 512h8v8h-8zM480 512h8v8h-8zM496 512h8v8h-8zM432 520h8v8h-8zM480 520h8v8h-8zM496 520h8v8h-8zM432 528h8v8h-8zM464 528h8v8h-8zM496 528h8v8h-8zM432 536h16v8h-16zM488 536h16v8h-16zM448 552h40v8h-40zM456 560h24v8h-24z"/><path fill="#d8d0cc" d="M488 488h8v8h-8z"/><path fill="#848484" d="M496 488h8v8h-8z"/><path fill="#f8e88c" d="M184 496h8v8h-8z"/><path fill="#f4e88c" d="M192 496h8v8h-8z"/><path fill="#f8f0a0" d="M208 496h8v8h-8z"/><path fill="#f4e888" d="M216 496h8v8h-8z"/><path fill="#fff8f0" d="M432 496h8v8h-8zM496 496h8v8h-8z"/><path fill="#fce0cc" d="M448 496h16v8h-16zM472 496h16v8h-16zM448 520h8v8h-8zM464 536h8v8h-8zM440 544h8v8h-8z"/><path fill="#fcf0a8" d="M176 504h8v8h-8zM224 504h8v8h-8z"/><path fill="#ecd860" d="M184 504h8v8h-8z"/><path fill="#f0dc70" d="M192 504h8v8h-8zM208 504h8v8h-8z"/><path fill="#f0e070" d="M200 504h8v8h-8z"/><path fill="#ecd85c" d="M216 504h8v8h-8z"/><path fill="#bcbcb8" d="M424 504h8v8h-8z"/><path fill="#fce8d4" d="M432 504h8v8h-8zM496 504h8v8h-8zM440 552h8v8h-8zM488 552h8v8h-8z"/><path fill="#f4c8a0" d="M440 504h8v8h-8zM488 504h8v8h-8zM456 520h8v8h-8zM472 528h8v8h-8z"/><path fill="#f4ccac" d="M448 504h8v8h-8zM464 520h8v8h-8z"/><path fill="#f0c098" d="M456 504h8v8h-8zM448 528h8v8h-8z"/><path fill="#f0c094" d="M472 504h8v8h-8zM456 544h8v8h-8zM472 544h8v8h-8z"/><path fill="#ecb480" d="M480 504h8v8h-8z"/><path fill="#fffcfc" d="M504 504h8v8h-8zM424 544h8v8h-8zM504 544h8v8h-8z"/><path fill="#fffce8" d="M168 512h8v8h-8zM232 512h8v8h-8z"/><path fill="#f8e898" d="M184 512h8v8h-8z"/><path fill="#f8e894" d="M216 512h8v8h-8z"/><path fill="#6c6c6c" d="M304 512h8v8h-8z"/><path fill="#d4d0c0" d="M320 512h8v8h-8z"/><path fill="#dcd8c0" d="M328 512h8v8h-8z"/><path fill="#e0dcc4" d="M336 512h8v8h-8z"/><path fill="#d0d0bc" d="M344 512h8v8h-8z"/><path fill="#dcdcd8" d="M352 512h8v8h-8z"/><path fill="#787878" d="M360 512h8v8h-8z"/><path fill="#fff4e8" d="M424 512h8v8h-8zM504 512h8v8h-8z"/><path fill="#f4cca8" d="M440 512h8v8h-8zM456 512h8v8h-8zM472 512h8v8h-8zM488 512h8v8h-8zM440 520h8v8h-8zM488 520h8v8h-8zM440 528h8v8h-8zM488 528h8v8h-8z"/><path fill="#e8e8d0" d="M176 520h8v8h-8z"/><path fill="#d0c89c" d="M184 520h8v8h-8z"/><path fill="#fcf0e4" d="M424 520h8v8h-8zM504 520h8v8h-8zM504 528h8v8h-8z"/><path fill="#f0c49c" d="M472 520h8v8h-8z"/><path fill="#fcfcf0" d="M184 528h8v8h-8z"/><path fill="#f8f4d8" d="M192 528h8v8h-8z"/><path fill="#d4d0bc" d="M200 528h8v8h-8z"/><path fill="#f0ecd0" d="M208 528h8v8h-8z"/><path fill="#bcb8b0" d="M216 528h8v8h-8z"/><path fill="#808080" d="M224 528h8v8h-8z"/><path fill="#f8e8e0" d="M424 528h8v8h-8z"/><path fill="#f4c4a0" d="M456 528h8v8h-8z"/><path fill="#f4c8a4" d="M480 528h8v8h-8z"/><path fill="#f8f0e8" d="M424 536h8v8h-8z"/><path fill="#f0c498" d="M448 536h8v8h-8zM480 536h8v8h-8z"/><path fill="#f8d8bc" d="M456 536h8v8h-8zM472 536h8v8h-8z"/><path fill="#fff4ec" d="M504 536h8v8h-8z"/><path fill="#fce8d8" d="M432 544h8v8h-8zM496 544h8v8h-8z"/><path fill="#ecb484" d="M448 544h8v8h-8z"/><path fill="#ecb078" d="M464 544h8v8h-8z"/><path fill="#f0b884" d="M480 544h8v8h-8z"/><path fill="#fce0c8" d="M488 544h8v8h-8z"/><path fill="#fcf0e0" d="M448 560h8v8h-8zM480 560h8v8h-8z"/></g>
<g fill="none" stroke="#4a4a4a" stroke-width="2" stroke-dasharray="9 6">
<ellipse cx="336" cy="444" rx="289" ry="96"/>
<ellipse cx="336" cy="444" rx="204" ry="72"/>
<ellipse cx="336" cy="444" rx="132" ry="47"/>
</g>
<circle cx="114.4" cy="384.0" r="30.5" fill="#D7F1FC" stroke="#ffffff" stroke-width="3.0"/>
<circle cx="372.2" cy="347.7" r="23.9" fill="#C6F7DE" stroke="#ffffff" stroke-width="3.0"/>
<circle cx="582.5" cy="396.2" r="30.3" fill="#E3F8C5" stroke="#ffffff" stroke-width="3.0"/>
<circle cx="204.0" cy="497.8" r="36.2" fill="#FFF5B4" stroke="#ffffff" stroke-width="3.0"/>
<circle cx="468.0" cy="527.8" r="42.1" fill="#FDE4D0" stroke="#ffffff" stroke-width="3.0"/>
<circle cx="336.4" cy="443.9" r="72.1" fill="#FFF5B4" stroke="#ffffff" stroke-width="3.0"/>
<clipPath id="c1"><circle cx="204.0" cy="497.8" r="37.7"/></clipPath><ellipse cx="336" cy="444" rx="289" ry="96" fill="none" stroke="#4a4a4a" stroke-width="2" stroke-dasharray="9 6" clip-path="url(#c1)"/>
<clipPath id="low"><rect x="0" y="446" width="672" height="335"/></clipPath>
<g clip-path="url(#low)"><clipPath id="c2"><circle cx="336.4" cy="443.9" r="73.6"/></clipPath><ellipse cx="336" cy="444" rx="132" ry="47" fill="none" stroke="#4a4a4a" stroke-width="2" stroke-dasharray="9 6" clip-path="url(#c2)"/><clipPath id="c3"><circle cx="336.4" cy="443.9" r="73.6"/></clipPath><ellipse cx="336" cy="444" rx="204" ry="72" fill="none" stroke="#4a4a4a" stroke-width="2" stroke-dasharray="9 6" clip-path="url(#c3)"/></g>
<clipPath id="c4"><circle cx="372.2" cy="347.7" r="30.4"/></clipPath><ellipse cx="336" cy="444" rx="204" ry="72" fill="none" stroke="#4a4a4a" stroke-width="2" stroke-dasharray="9 6" clip-path="url(#c4)"/>
<g fill="none" stroke="#2C9DD6" stroke-width="2.2" stroke-linecap="round" stroke-linejoin="round">
<ellipse cx="114.0" cy="370.6" rx="11.799999999999997" ry="3.6"/>
<path d="M102.2 370.6 V389.7 A11.799999999999997 3.6 0 0 0 125.8 389.7 V370.6"/>
<path d="M102.2 376.9 A11.799999999999997 3.6 0 0 0 125.8 376.9"/>
<path d="M102.2 383.3 A11.799999999999997 3.6 0 0 0 125.8 383.3"/>
<path d="M114.0 393.3 V400.8 M104.4 400.8 H123.6"/>
<path d="M97.4 400.8 h0.01 M101.1 400.8 h0.01 M126.7 400.8 h0.01 M130.4 400.8 h0.01" stroke-width="2.5"/>
</g>
<g fill="none" stroke="#40BA7D" stroke-width="2.2" stroke-linecap="round" stroke-linejoin="round">
<path d="M361.4 337 Q361.4 333.6 364.8 333.6 H379.6 Q383 333.6 383 337 V359.2 Q383 362.6 379.6 362.6 H364.8 Q361.4 362.6 361.4 359.2 Z"/>
<path d="M362 338.7 H382.6" stroke-width="2"/>
<path d="M363.6 336.1 H380.8" stroke-width="1.3"/>
<path d="M383.3 340 V359" stroke-width="1.6"/>
<path d="M365.8 345.6 L370 349.2 L365.8 352.9"/>
<path d="M372.6 350.9 H378.6"/>
</g>
<g fill="none" stroke="#8FBF3F" stroke-width="2.2" stroke-linecap="round" stroke-linejoin="round">
<path d="M566.8 405 V381 Q566.8 379.2 568.6 379.2 H572.6 Q574.4 379.2 574.4 381 V405"/>
<path d="M574.4 405 V381 Q574.4 379.2 576.2 379.2 H580.4 Q582.2 379.2 582.2 381 V405"/>
<path d="M570.6 383.5 V396.5 M578.3 383.5 V396.5 M570 401 H571.2 M577.7 401 H578.9" stroke-width="1.6"/>
<path d="M583.6 405 V383.4 H585.6 V405" stroke-width="1.3"/>
<path d="M587.2 381.2 Q587 379.6 588.6 379.4 L592.6 379 Q594.2 378.8 594.5 380.4 L597.6 405 M587.2 381.2 L590 405"/>
<circle cx="592.6" cy="399.4" r="1.2" stroke-width="1.5"/>
<path d="M564.2 405.4 H600 V407.6 Q600 409.8 597.8 409.8 H566.4 Q564.2 409.8 564.2 407.6 Z"/>
<path d="M567.6 410 V413.2 M596.6 410 V413.2"/>
</g>
<g fill="none" stroke="#E2C832" stroke-width="2.2" stroke-linecap="round" stroke-linejoin="round">
<path d="M195.4 481.4 H203.6 M190 489.5 H203.6 M184.8 496.9 H203.6"/>
<path d="M210 481.5 H218.8"/>
<path d="M214.7 482 L217.2 503.6" stroke-width="3"/>
<circle cx="187.4" cy="510.5" r="3.3"/>
<circle cx="220.2" cy="510.5" r="3.3"/>
<path d="M183.4 506.2 Q184.2 504.7 186.4 504.7 H221.4 Q223.6 504.7 224.4 506.2"/>
<path d="M193.6 505 L195 509.6 H212.6 L214 505"/>
</g>
<g fill="none" stroke="#E08B3E" stroke-width="2.2" stroke-linecap="round" stroke-linejoin="round">
<rect x="444.6" y="504.8" width="16.6" height="28.6" rx="2.4"/>
<circle cx="453" cy="528.4" r="0.9" fill="#E08B3E" stroke-width="1.2"/>
<rect x="475.4" y="504.8" width="15.8" height="28.6" rx="2.4"/>
<path d="M478.6 505 L480.4 508 H486.2 L488 505"/>
<path d="M461.2 522 H475.4"/>
<path d="M454 536.4 V544 M482.8 536.4 V544"/>
<path d="M448.6 544.2 H464.4 L466 546.8 H470.4 L472 544.2 H487.8 V546.6 Q487.8 551 483.4 551 H453 Q448.6 551 448.6 546.6 Z"/>
</g>
<g fill="none" stroke="#918E7B" stroke-width="2.1" stroke-linecap="round" stroke-linejoin="round">
<rect x="302.2" y="423.8" width="68" height="40.6" rx="3"/>
<path d="M331.4 435.2 V447.4 Q331.4 452.2 326.8 452.2 Q322.6 452.2 322.2 447.8"/>
<path d="M347.6 435.3 H341.6 Q337.6 435.3 337.6 438.7 Q337.6 440.8 339.8 442 L345.6 445.4 Q347.7 446.7 347.7 448.8 Q347.7 452.2 343.6 452.2 H337.7"/>
</g>
<g font-family="'Liberation Sans', sans-serif" fill="#525252">
<text fill="#464646" x="187.0" y="80.0" font-size="32" textLength="298.0" lengthAdjust="spacingAndGlyphs">Advantages of Node.js</text>
<text x="74.5" y="189.5" font-size="22" font-weight="bold" textLength="138.5" lengthAdjust="spacingAndGlyphs">Non-blocking</text>
<text x="124.0" y="213.5" font-size="22" font-weight="bold" textLength="34.0" lengthAdjust="spacingAndGlyphs">I/O</text>
<text x="59.0" y="249.0" font-size="19" textLength="162.0" lengthAdjust="spacingAndGlyphs">Handles multiple</text>
<text x="66.5" y="273.0" font-size="19" textLength="153.5" lengthAdjust="spacingAndGlyphs">requests without</text>
<text x="91.0" y="297.0" font-size="19" textLength="102.0" lengthAdjust="spacingAndGlyphs">blocking ops</text>
<text x="299.0" y="129.5" font-size="22" font-weight="bold" textLength="67.0" lengthAdjust="spacingAndGlyphs">Single</text>
<text x="259.0" y="153.5" font-size="22" font-weight="bold" textLength="146.0" lengthAdjust="spacingAndGlyphs">Programming</text>
<text x="283.0" y="177.5" font-size="22" font-weight="bold" textLength="98.0" lengthAdjust="spacingAndGlyphs">Language</text>
<text x="307.0" y="212.3" font-size="19" textLength="58.0" lengthAdjust="spacingAndGlyphs">Uses</text>
<text x="267.0" y="236.3" font-size="19" textLength="138.0" lengthAdjust="spacingAndGlyphs">JavaScript for</text>
<text x="267.0" y="260.3" font-size="19" textLength="138.0" lengthAdjust="spacingAndGlyphs">both client and</text>
<text x="259.0" y="284.3" font-size="19" textLength="154.0" lengthAdjust="spacingAndGlyphs">server-side code</text>
<text x="499.0" y="142.0" font-size="22" font-weight="bold" textLength="59.0" lengthAdjust="spacingAndGlyphs">Large</text>
<text x="475.0" y="166.0" font-size="22" font-weight="bold" textLength="106.0" lengthAdjust="spacingAndGlyphs">Ecosystem</text>
<text x="483.0" y="201.0" font-size="19" textLength="83.0" lengthAdjust="spacingAndGlyphs">Provides</text>
<text x="482.0" y="225.0" font-size="19" textLength="88.0" lengthAdjust="spacingAndGlyphs">access to</text>
<text x="467.0" y="249.0" font-size="19" textLength="122.0" lengthAdjust="spacingAndGlyphs">thousands of</text>
<text x="451.0" y="273.0" font-size="19" textLength="146.0" lengthAdjust="spacingAndGlyphs">reusable packages</text>
<text x="499.0" y="297.0" font-size="19" textLength="50.0" lengthAdjust="spacingAndGlyphs">(npm)</text>
<text x="187.0" y="621.0" font-size="22" font-weight="bold" textLength="130.0" lengthAdjust="spacingAndGlyphs">Performance</text>
<text x="195.0" y="657.0" font-size="19" textLength="106.0" lengthAdjust="spacingAndGlyphs">Offers high</text>
<text x="170.0" y="681.0" font-size="19" textLength="164.0" lengthAdjust="spacingAndGlyphs">performance&#160; due</text>
<text x="170.0" y="705.0" font-size="19" textLength="163.0" lengthAdjust="spacingAndGlyphs">to the V8 engine</text>
<text x="387.0" y="621.0" font-size="22" font-weight="bold" textLength="114.0" lengthAdjust="spacingAndGlyphs">Scalability</text>
<text x="403.0" y="657.0" font-size="19" textLength="82.0" lengthAdjust="spacingAndGlyphs">Supports</text>
<text x="403.0" y="681.0" font-size="19" textLength="82.0" lengthAdjust="spacingAndGlyphs">building</text>
<text x="363.0" y="705.0" font-size="19" textLength="162.0" lengthAdjust="spacingAndGlyphs">applications that</text>
<text x="379.0" y="729.0" font-size="19" textLength="130.0" lengthAdjust="spacingAndGlyphs">grow easily</text>
</g>
<path shape-rendering="crispEdges" fill="#141414" d="M468 57h1v1h-1zM386 58h1v1h-1zM199 59h1v1h-1zM218 59h1v1h-1zM468 59h1v1h-1zM386 60h1v1h-1zM273 61h1v1h-1zM400 61h1v1h-1zM193 62h1v1h-1zM197 62h1v1h-1zM400 62h1v1h-1zM197 63h1v1h-1zM310 63h1v1h-1zM332 63h1v1h-1zM356 63h1v1h-1zM400 63h1v1h-1zM201 64h1v1h-1zM209 64h1v1h-1zM221 64h1v1h-1zM307 64h1v1h-1zM368 64h1v1h-1zM389 64h1v1h-1zM433 64h1v1h-1zM468 64h1v1h-1zM472 64h1v1h-1zM195 65h1v1h-1zM201 65h1v1h-1zM287 65h1v1h-1zM303 65h1v1h-1zM320 65h1v1h-1zM361 65h1v1h-1zM400 65h1v1h-1zM408 65h1v1h-1zM424 65h1v1h-1zM430 65h1v1h-1zM468 65h1v1h-1zM212 66h1v1h-1zM233 66h1v1h-1zM248 66h1v1h-1zM284 66h1v1h-1zM301 66h1v1h-1zM317 66h1v1h-1zM333 66h1v1h-1zM353 66h1v1h-1zM366 66h1v1h-1zM420 66h1v1h-1zM432 66h1v1h-1zM471 66h1v1h-1zM236 67h1v1h-1zM284 67h1v1h-1zM300 67h1v1h-1zM306 67h1v1h-1zM323 67h1v1h-1zM340 67h1v1h-1zM341 67h1v1h-1zM370 67h1v1h-1zM392 67h1v1h-1zM417 67h1v1h-1zM471 67h1v1h-1zM221 68h1v1h-1zM259 68h1v1h-1zM310 68h1v1h-1zM313 68h1v1h-1zM370 68h1v1h-1zM468 68h1v1h-1zM316 69h1v1h-1zM335 69h1v1h-1zM370 69h1v1h-1zM386 69h1v1h-1zM393 69h1v1h-1zM397 69h1v1h-1zM400 69h1v1h-1zM443 69h1v1h-1zM468 69h1v1h-1zM476 69h1v1h-1zM203 70h1v1h-1zM221 70h1v1h-1zM252 70h1v1h-1zM293 70h1v1h-1zM386 70h1v1h-1zM423 70h1v1h-1zM221 71h1v1h-1zM307 71h1v1h-1zM327 71h1v1h-1zM340 71h1v1h-1zM239 72h1v1h-1zM252 72h1v1h-1zM280 72h1v1h-1zM287 72h1v1h-1zM400 72h1v1h-1zM443 72h1v1h-1zM197 73h1v1h-1zM200 73h1v1h-1zM242 73h1v1h-1zM280 73h1v1h-1zM313 73h1v1h-1zM337 73h1v1h-1zM399 73h1v1h-1zM410 73h1v1h-1zM221 74h1v1h-1zM252 74h1v1h-1zM280 74h1v1h-1zM370 74h1v1h-1zM407 74h1v1h-1zM443 74h1v1h-1zM211 75h1v1h-1zM269 75h1v1h-1zM283 75h1v1h-1zM289 75h1v1h-1zM313 75h1v1h-1zM339 75h1v1h-1zM353 75h1v1h-1zM407 75h1v1h-1zM452 75h1v1h-1zM468 75h1v1h-1zM202 76h1v1h-1zM216 76h1v1h-1zM242 76h1v1h-1zM247 76h1v1h-1zM276 76h1v1h-1zM283 76h1v1h-1zM314 76h1v1h-1zM317 76h1v1h-1zM323 76h1v1h-1zM366 76h1v1h-1zM389 76h1v1h-1zM411 76h1v1h-1zM432 76h1v1h-1zM444 76h1v1h-1zM468 76h1v1h-1zM187 77h1v1h-1zM221 77h1v1h-1zM239 77h1v1h-1zM244 77h1v1h-1zM253 77h1v1h-1zM280 77h1v1h-1zM302 77h1v1h-1zM303 77h1v1h-1zM322 77h1v1h-1zM329 77h1v1h-1zM334 77h1v1h-1zM358 77h1v1h-1zM361 77h1v1h-1zM429 77h1v1h-1zM445 77h1v1h-1zM447 77h1v1h-1zM448 77h1v1h-1zM471 77h1v1h-1zM476 77h1v1h-1zM477 77h1v1h-1zM209 78h1v1h-1zM259 78h1v1h-1zM298 78h1v1h-1zM307 78h1v1h-1zM341 78h1v1h-1zM433 78h1v1h-1zM468 78h1v1h-1zM472 78h1v1h-1zM190 79h1v1h-1zM279 79h1v1h-1zM282 79h1v1h-1zM288 79h1v1h-1zM299 79h1v1h-1zM307 79h1v1h-1zM310 79h1v1h-1zM324 79h1v1h-1zM363 79h1v1h-1zM389 79h1v1h-1zM399 79h1v1h-1zM410 79h1v1h-1zM473 79h1v1h-1zM310 80h1v1h-1zM468 80h1v1h-1zM301 83h1v1h-1zM306 83h1v1h-1zM305 84h1v1h-1zM309 84h1v1h-1zM308 85h1v1h-1zM307 86h1v1h-1zM348 114h1v1h-1zM310 115h1v1h-1zM348 115h1v1h-1zM306 117h1v1h-1zM348 117h1v1h-1zM348 118h1v1h-1zM348 119h1v1h-1zM306 120h1v1h-1zM326 120h1v1h-1zM327 120h1v1h-1zM348 120h1v1h-1zM360 120h1v1h-1zM309 121h1v1h-1zM332 121h1v1h-1zM348 121h1v1h-1zM354 121h1v1h-1zM311 122h1v1h-1zM342 122h1v1h-1zM304 123h1v1h-1zM332 123h1v1h-1zM299 125h1v1h-1zM300 125h1v1h-1zM338 125h1v1h-1zM342 125h1v1h-1zM332 126h1v1h-1zM338 126h1v1h-1zM354 126h1v1h-1zM363 126h1v1h-1zM348 127h1v1h-1zM342 129h1v1h-1zM348 129h1v1h-1zM356 129h1v1h-1zM535 130h1v1h-1zM335 131h1v1h-1zM534 131h1v1h-1zM339 132h1v1h-1zM345 132h1v1h-1zM525 132h1v1h-1zM551 132h1v1h-1zM335 133h1v1h-1zM513 133h1v1h-1zM533 133h1v1h-1zM537 133h1v1h-1zM546 134h1v1h-1zM557 134h1v1h-1zM533 135h1v1h-1zM516 137h1v1h-1zM519 137h1v1h-1zM525 137h1v1h-1zM533 137h1v1h-1zM516 138h1v1h-1zM525 138h1v1h-1zM555 138h1v1h-1zM518 139h1v1h-1zM539 139h1v1h-1zM551 139h1v1h-1zM552 139h1v1h-1zM540 141h1v1h-1zM286 142h1v1h-1zM311 142h1v1h-1zM363 142h1v1h-1zM388 142h1v1h-1zM273 143h1v1h-1zM294 143h1v1h-1zM311 143h1v1h-1zM336 143h1v1h-1zM342 143h1v1h-1zM349 143h1v1h-1zM389 143h1v1h-1zM534 143h1v1h-1zM273 144h1v1h-1zM288 144h1v1h-1zM297 144h1v1h-1zM317 144h1v1h-1zM357 144h1v1h-1zM365 144h1v1h-1zM385 144h1v1h-1zM392 144h1v1h-1zM403 144h1v1h-1zM544 144h1v1h-1zM279 145h1v1h-1zM291 145h1v1h-1zM295 145h1v1h-1zM346 145h1v1h-1zM352 145h1v1h-1zM543 145h1v1h-1zM272 146h1v1h-1zM350 146h1v1h-1zM386 146h1v1h-1zM343 147h1v1h-1zM359 147h1v1h-1zM395 147h1v1h-1zM270 148h1v1h-1zM336 148h1v1h-1zM395 148h1v1h-1zM283 149h1v1h-1zM287 149h1v1h-1zM295 149h1v1h-1zM336 149h1v1h-1zM343 149h1v1h-1zM352 149h1v1h-1zM366 149h1v1h-1zM382 149h1v1h-1zM283 150h1v1h-1zM287 150h1v1h-1zM291 150h1v1h-1zM301 150h1v1h-1zM336 150h1v1h-1zM399 150h1v1h-1zM403 150h1v1h-1zM288 151h1v1h-1zM295 151h1v1h-1zM311 151h1v1h-1zM319 151h1v1h-1zM382 151h1v1h-1zM298 152h1v1h-1zM311 152h1v1h-1zM319 152h1v1h-1zM359 152h1v1h-1zM366 152h1v1h-1zM372 152h1v1h-1zM293 153h1v1h-1zM299 153h1v1h-1zM336 153h1v1h-1zM352 153h1v1h-1zM359 153h1v1h-1zM399 153h1v1h-1zM479 154h1v1h-1zM502 154h1v1h-1zM542 154h1v1h-1zM543 154h1v1h-1zM555 154h1v1h-1zM560 154h1v1h-1zM572 154h1v1h-1zM574 154h1v1h-1zM297 155h1v1h-1zM301 155h1v1h-1zM392 155h1v1h-1zM403 155h1v1h-1zM479 155h1v1h-1zM553 155h1v1h-1zM561 155h1v1h-1zM302 156h1v1h-1zM308 156h1v1h-1zM392 156h1v1h-1zM398 156h1v1h-1zM500 156h1v1h-1zM546 156h1v1h-1zM298 157h1v1h-1zM500 157h1v1h-1zM507 157h1v1h-1zM519 157h1v1h-1zM520 157h1v1h-1zM543 157h1v1h-1zM564 157h1v1h-1zM570 157h1v1h-1zM576 157h1v1h-1zM299 158h1v1h-1zM503 158h1v1h-1zM524 158h1v1h-1zM540 158h1v1h-1zM541 158h1v1h-1zM559 158h1v1h-1zM562 158h1v1h-1zM503 159h1v1h-1zM524 159h1v1h-1zM535 159h1v1h-1zM552 159h1v1h-1zM564 159h1v1h-1zM492 160h1v1h-1zM528 160h1v1h-1zM567 160h1v1h-1zM570 160h1v1h-1zM492 161h1v1h-1zM497 161h1v1h-1zM499 161h1v1h-1zM503 161h1v1h-1zM525 161h1v1h-1zM528 161h1v1h-1zM552 161h1v1h-1zM489 162h1v1h-1zM535 162h1v1h-1zM536 162h1v1h-1zM546 162h1v1h-1zM560 162h1v1h-1zM567 162h1v1h-1zM493 163h1v1h-1zM494 163h1v1h-1zM541 163h1v1h-1zM550 163h1v1h-1zM557 163h1v1h-1zM558 163h1v1h-1zM562 163h1v1h-1zM564 163h1v1h-1zM570 163h1v1h-1zM501 164h1v1h-1zM512 164h1v1h-1zM567 164h1v1h-1zM287 165h1v1h-1zM308 166h1v1h-1zM331 166h1v1h-1zM354 166h1v1h-1zM368 166h1v1h-1zM372 166h1v1h-1zM378 166h1v1h-1zM308 167h1v1h-1zM331 167h1v1h-1zM333 167h1v1h-1zM340 167h1v1h-1zM371 167h1v1h-1zM326 168h1v1h-1zM346 168h1v1h-1zM351 168h1v1h-1zM374 168h1v1h-1zM379 168h1v1h-1zM524 168h1v1h-1zM302 169h1v1h-1zM308 169h1v1h-1zM331 169h1v1h-1zM340 169h1v1h-1zM287 170h1v1h-1zM308 170h1v1h-1zM320 170h1v1h-1zM340 170h1v1h-1zM287 171h1v1h-1zM320 171h1v1h-1zM340 171h1v1h-1zM355 171h1v1h-1zM357 171h1v1h-1zM287 172h1v1h-1zM308 172h1v1h-1zM315 172h1v1h-1zM287 173h1v1h-1zM364 173h1v1h-1zM373 173h1v1h-1zM302 174h1v1h-1zM308 174h1v1h-1zM327 174h1v1h-1zM345 174h1v1h-1zM361 174h1v1h-1zM75 175h1v1h-1zM128 175h1v1h-1zM295 175h1v1h-1zM306 175h1v1h-1zM315 175h1v1h-1zM325 175h1v1h-1zM333 175h1v1h-1zM363 175h1v1h-1zM80 176h1v1h-1zM128 176h1v1h-1zM182 176h1v1h-1zM184 176h1v1h-1zM308 176h1v1h-1zM315 176h1v1h-1zM321 176h1v1h-1zM352 176h1v1h-1zM295 177h1v1h-1zM297 177h1v1h-1zM303 177h1v1h-1zM322 177h1v1h-1zM327 177h1v1h-1zM75 178h1v1h-1zM100 178h1v1h-1zM153 178h1v1h-1zM187 178h1v1h-1zM331 178h1v1h-1zM92 179h1v1h-1zM104 179h1v1h-1zM128 179h1v1h-1zM361 179h1v1h-1zM75 180h1v1h-1zM163 180h1v1h-1zM167 180h1v1h-1zM192 180h1v1h-1zM198 180h1v1h-1zM326 180h1v1h-1zM85 181h1v1h-1zM115 181h1v1h-1zM191 181h1v1h-1zM200 181h1v1h-1zM80 182h1v1h-1zM85 182h1v1h-1zM115 182h1v1h-1zM147 182h1v1h-1zM160 182h1v1h-1zM359 182h1v1h-1zM94 183h1v1h-1zM117 183h1v1h-1zM147 183h1v1h-1zM81 184h1v1h-1zM94 184h1v1h-1zM160 184h1v1h-1zM177 184h1v1h-1zM200 184h1v1h-1zM75 185h1v1h-1zM85 185h1v1h-1zM128 185h1v1h-1zM132 185h1v1h-1zM164 185h1v1h-1zM165 185h1v1h-1zM198 185h1v1h-1zM200 185h1v1h-1zM115 186h1v1h-1zM97 187h1v1h-1zM150 187h1v1h-1zM175 187h1v1h-1zM179 187h1v1h-1zM198 187h1v1h-1zM83 188h1v1h-1zM135 188h1v1h-1zM158 188h1v1h-1zM484 188h1v1h-1zM75 189h1v1h-1zM115 189h1v1h-1zM146 189h1v1h-1zM165 189h1v1h-1zM180 189h1v1h-1zM198 189h1v1h-1zM528 189h1v1h-1zM484 190h1v1h-1zM204 191h1v1h-1zM493 191h1v1h-1zM501 191h1v1h-1zM506 191h1v1h-1zM546 191h1v1h-1zM564 191h1v1h-1zM205 192h1v1h-1zM211 192h1v1h-1zM484 192h1v1h-1zM510 192h1v1h-1zM536 192h1v1h-1zM537 192h1v1h-1zM549 192h1v1h-1zM201 193h1v1h-1zM498 193h1v1h-1zM501 193h1v1h-1zM505 193h1v1h-1zM554 193h1v1h-1zM202 194h1v1h-1zM490 194h1v1h-1zM495 194h1v1h-1zM498 194h1v1h-1zM507 194h1v1h-1zM515 194h1v1h-1zM517 194h1v1h-1zM525 194h1v1h-1zM559 194h1v1h-1zM522 195h1v1h-1zM525 195h1v1h-1zM530 195h1v1h-1zM534 195h1v1h-1zM487 196h1v1h-1zM489 196h1v1h-1zM522 196h1v1h-1zM530 196h1v1h-1zM539 196h1v1h-1zM548 196h1v1h-1zM551 196h1v1h-1zM552 196h1v1h-1zM554 196h1v1h-1zM558 196h1v1h-1zM484 197h1v1h-1zM498 197h1v1h-1zM518 197h1v1h-1zM544 197h1v1h-1zM565 197h1v1h-1zM498 198h1v1h-1zM532 198h1v1h-1zM547 198h1v1h-1zM565 198h1v1h-1zM311 199h1v1h-1zM498 199h1v1h-1zM536 199h1v1h-1zM137 200h1v1h-1zM308 200h1v1h-1zM484 200h1v1h-1zM513 200h1v1h-1zM125 201h1v1h-1zM133 202h1v1h-1zM145 202h1v1h-1zM323 202h1v1h-1zM362 202h1v1h-1zM125 203h1v1h-1zM133 203h1v1h-1zM330 203h1v1h-1zM332 203h1v1h-1zM345 203h1v1h-1zM357 203h1v1h-1zM125 204h1v1h-1zM337 204h1v1h-1zM143 205h1v1h-1zM311 205h1v1h-1zM348 205h1v1h-1zM353 205h1v1h-1zM125 206h1v1h-1zM143 206h1v1h-1zM347 207h1v1h-1zM350 207h1v1h-1zM144 209h1v1h-1zM319 209h1v1h-1zM334 209h1v1h-1zM337 209h1v1h-1zM347 209h1v1h-1zM350 209h1v1h-1zM355 209h1v1h-1zM125 210h1v1h-1zM135 210h1v1h-1zM150 210h1v1h-1zM310 210h1v1h-1zM331 210h1v1h-1zM332 210h1v1h-1zM353 210h1v1h-1zM125 211h1v1h-1zM129 211h1v1h-1zM140 211h1v1h-1zM155 211h1v1h-1zM354 211h1v1h-1zM362 211h1v1h-1zM125 212h1v1h-1zM154 212h1v1h-1zM129 213h1v1h-1zM491 215h1v1h-1zM496 215h1v1h-1zM506 215h1v1h-1zM523 215h1v1h-1zM499 216h1v1h-1zM509 216h1v1h-1zM535 216h1v1h-1zM540 216h1v1h-1zM542 216h1v1h-1zM552 216h1v1h-1zM553 216h1v1h-1zM557 216h1v1h-1zM564 216h1v1h-1zM494 217h1v1h-1zM497 217h1v1h-1zM503 217h1v1h-1zM511 217h1v1h-1zM518 217h1v1h-1zM539 217h1v1h-1zM566 217h1v1h-1zM494 218h1v1h-1zM530 218h1v1h-1zM537 218h1v1h-1zM483 219h1v1h-1zM521 220h1v1h-1zM494 221h1v1h-1zM482 222h1v1h-1zM488 222h1v1h-1zM503 222h1v1h-1zM507 222h1v1h-1zM526 222h1v1h-1zM528 222h1v1h-1zM546 222h1v1h-1zM562 222h1v1h-1zM381 223h1v1h-1zM385 223h1v1h-1zM505 223h1v1h-1zM532 223h1v1h-1zM541 223h1v1h-1zM542 223h1v1h-1zM564 223h1v1h-1zM321 224h1v1h-1zM384 224h1v1h-1zM483 224h1v1h-1zM506 224h1v1h-1zM512 224h1v1h-1zM527 224h1v1h-1zM544 224h1v1h-1zM316 225h1v1h-1zM328 225h1v1h-1zM380 225h1v1h-1zM280 226h1v1h-1zM287 226h1v1h-1zM311 226h1v1h-1zM328 226h1v1h-1zM338 226h1v1h-1zM339 226h1v1h-1zM344 226h1v1h-1zM345 226h1v1h-1zM357 226h1v1h-1zM283 227h1v1h-1zM319 227h1v1h-1zM346 227h1v1h-1zM383 227h1v1h-1zM385 227h1v1h-1zM404 227h1v1h-1zM279 228h1v1h-1zM303 228h1v1h-1zM367 228h1v1h-1zM380 228h1v1h-1zM289 229h1v1h-1zM294 229h1v1h-1zM319 229h1v1h-1zM380 229h1v1h-1zM388 229h1v1h-1zM396 229h1v1h-1zM280 230h1v1h-1zM300 230h1v1h-1zM328 230h1v1h-1zM357 230h1v1h-1zM283 231h1v1h-1zM284 231h1v1h-1zM295 231h1v1h-1zM309 231h1v1h-1zM269 232h1v1h-1zM289 232h1v1h-1zM293 232h1v1h-1zM310 232h1v1h-1zM315 232h1v1h-1zM401 232h1v1h-1zM315 233h1v1h-1zM325 233h1v1h-1zM328 233h1v1h-1zM367 233h1v1h-1zM276 234h1v1h-1zM283 234h1v1h-1zM284 234h1v1h-1zM316 234h1v1h-1zM321 234h1v1h-1zM335 234h1v1h-1zM361 234h1v1h-1zM364 234h1v1h-1zM279 235h1v1h-1zM286 235h1v1h-1zM310 235h1v1h-1zM326 235h1v1h-1zM339 235h1v1h-1zM401 235h1v1h-1zM190 236h1v1h-1zM207 236h1v1h-1zM553 236h1v1h-1zM73 237h1v1h-1zM184 237h1v1h-1zM476 237h1v1h-1zM587 237h1v1h-1zM588 237h1v1h-1zM60 238h1v1h-1zM73 238h1v1h-1zM207 238h1v1h-1zM553 238h1v1h-1zM84 239h1v1h-1zM91 239h1v1h-1zM130 239h1v1h-1zM137 239h1v1h-1zM149 239h1v1h-1zM161 239h1v1h-1zM493 239h1v1h-1zM517 239h1v1h-1zM528 239h1v1h-1zM81 240h1v1h-1zM97 240h1v1h-1zM134 240h1v1h-1zM158 240h1v1h-1zM167 240h1v1h-1zM186 240h1v1h-1zM197 240h1v1h-1zM198 240h1v1h-1zM202 240h1v1h-1zM214 240h1v1h-1zM215 240h1v1h-1zM483 240h1v1h-1zM504 240h1v1h-1zM513 240h1v1h-1zM520 240h1v1h-1zM524 240h1v1h-1zM525 240h1v1h-1zM536 240h1v1h-1zM548 240h1v1h-1zM577 240h1v1h-1zM85 241h1v1h-1zM497 241h1v1h-1zM518 241h1v1h-1zM520 241h1v1h-1zM526 241h1v1h-1zM529 241h1v1h-1zM85 242h1v1h-1zM119 242h1v1h-1zM207 242h1v1h-1zM485 242h1v1h-1zM543 242h1v1h-1zM555 242h1v1h-1zM574 242h1v1h-1zM65 243h1v1h-1zM68 243h1v1h-1zM69 243h1v1h-1zM70 243h1v1h-1zM76 243h1v1h-1zM95 243h1v1h-1zM102 243h1v1h-1zM179 243h1v1h-1zM200 243h1v1h-1zM504 243h1v1h-1zM516 243h1v1h-1zM563 243h1v1h-1zM574 243h1v1h-1zM582 243h1v1h-1zM60 244h1v1h-1zM73 244h1v1h-1zM162 244h1v1h-1zM167 244h1v1h-1zM174 244h1v1h-1zM179 244h1v1h-1zM184 244h1v1h-1zM200 244h1v1h-1zM476 244h1v1h-1zM525 244h1v1h-1zM135 245h1v1h-1zM153 245h1v1h-1zM200 245h1v1h-1zM209 245h1v1h-1zM481 245h1v1h-1zM529 245h1v1h-1zM561 245h1v1h-1zM584 245h1v1h-1zM60 246h1v1h-1zM73 246h1v1h-1zM120 246h1v1h-1zM153 246h1v1h-1zM167 246h1v1h-1zM184 246h1v1h-1zM190 246h1v1h-1zM212 246h1v1h-1zM219 246h1v1h-1zM468 246h1v1h-1zM492 246h1v1h-1zM495 246h1v1h-1zM519 246h1v1h-1zM529 246h1v1h-1zM546 246h1v1h-1zM550 246h1v1h-1zM562 246h1v1h-1zM584 246h1v1h-1zM86 247h1v1h-1zM104 247h1v1h-1zM129 247h1v1h-1zM174 247h1v1h-1zM185 247h1v1h-1zM197 247h1v1h-1zM199 247h1v1h-1zM215 247h1v1h-1zM270 247h1v1h-1zM468 247h1v1h-1zM490 247h1v1h-1zM501 247h1v1h-1zM512 247h1v1h-1zM513 247h1v1h-1zM515 247h1v1h-1zM524 247h1v1h-1zM577 247h1v1h-1zM581 247h1v1h-1zM76 248h1v1h-1zM190 248h1v1h-1zM270 248h1v1h-1zM401 248h1v1h-1zM504 248h1v1h-1zM510 248h1v1h-1zM517 248h1v1h-1zM526 248h1v1h-1zM545 248h1v1h-1zM195 249h1v1h-1zM297 249h1v1h-1zM271 250h1v1h-1zM281 250h1v1h-1zM297 250h1v1h-1zM328 250h1v1h-1zM350 250h1v1h-1zM363 250h1v1h-1zM382 250h1v1h-1zM391 250h1v1h-1zM277 251h1v1h-1zM284 251h1v1h-1zM319 251h1v1h-1zM330 251h1v1h-1zM358 251h1v1h-1zM387 251h1v1h-1zM394 251h1v1h-1zM398 251h1v1h-1zM282 252h1v1h-1zM304 252h1v1h-1zM361 252h1v1h-1zM370 252h1v1h-1zM385 252h1v1h-1zM275 253h1v1h-1zM297 253h1v1h-1zM337 253h1v1h-1zM377 253h1v1h-1zM279 254h1v1h-1zM297 254h1v1h-1zM328 254h1v1h-1zM382 254h1v1h-1zM330 255h1v1h-1zM339 255h1v1h-1zM341 255h1v1h-1zM342 255h1v1h-1zM345 255h1v1h-1zM375 255h1v1h-1zM382 255h1v1h-1zM396 255h1v1h-1zM328 256h1v1h-1zM337 256h1v1h-1zM356 256h1v1h-1zM361 256h1v1h-1zM286 257h1v1h-1zM321 257h1v1h-1zM330 257h1v1h-1zM335 257h1v1h-1zM338 257h1v1h-1zM394 257h1v1h-1zM400 257h1v1h-1zM339 258h1v1h-1zM340 258h1v1h-1zM344 258h1v1h-1zM356 258h1v1h-1zM375 258h1v1h-1zM382 258h1v1h-1zM394 258h1v1h-1zM399 258h1v1h-1zM296 259h1v1h-1zM328 259h1v1h-1zM349 259h1v1h-1zM381 259h1v1h-1zM382 259h1v1h-1zM400 259h1v1h-1zM169 260h1v1h-1zM169 261h1v1h-1zM73 263h1v1h-1zM76 263h1v1h-1zM82 263h1v1h-1zM87 263h1v1h-1zM107 263h1v1h-1zM111 263h1v1h-1zM117 263h1v1h-1zM182 263h1v1h-1zM199 263h1v1h-1zM203 263h1v1h-1zM454 263h1v1h-1zM492 263h1v1h-1zM544 263h1v1h-1zM570 263h1v1h-1zM580 263h1v1h-1zM595 263h1v1h-1zM79 264h1v1h-1zM86 264h1v1h-1zM114 264h1v1h-1zM142 264h1v1h-1zM153 264h1v1h-1zM177 264h1v1h-1zM197 264h1v1h-1zM210 264h1v1h-1zM214 264h1v1h-1zM215 264h1v1h-1zM219 264h1v1h-1zM456 264h1v1h-1zM480 264h1v1h-1zM499 264h1v1h-1zM516 264h1v1h-1zM536 264h1v1h-1zM546 264h1v1h-1zM555 264h1v1h-1zM560 264h1v1h-1zM573 264h1v1h-1zM593 264h1v1h-1zM67 265h1v1h-1zM74 265h1v1h-1zM121 265h1v1h-1zM146 265h1v1h-1zM169 265h1v1h-1zM191 265h1v1h-1zM514 265h1v1h-1zM533 265h1v1h-1zM553 265h1v1h-1zM554 265h1v1h-1zM560 265h1v1h-1zM565 265h1v1h-1zM88 266h1v1h-1zM107 266h1v1h-1zM121 266h1v1h-1zM137 266h1v1h-1zM141 266h1v1h-1zM165 266h1v1h-1zM189 266h1v1h-1zM201 266h1v1h-1zM203 266h1v1h-1zM457 266h1v1h-1zM493 266h1v1h-1zM497 266h1v1h-1zM525 266h1v1h-1zM529 266h1v1h-1zM531 266h1v1h-1zM538 266h1v1h-1zM542 266h1v1h-1zM551 266h1v1h-1zM575 266h1v1h-1zM109 267h1v1h-1zM132 267h1v1h-1zM145 267h1v1h-1zM163 267h1v1h-1zM167 267h1v1h-1zM169 267h1v1h-1zM203 267h1v1h-1zM469 267h1v1h-1zM482 267h1v1h-1zM501 267h1v1h-1zM508 267h1v1h-1zM525 267h1v1h-1zM533 267h1v1h-1zM571 267h1v1h-1zM595 267h1v1h-1zM78 268h1v1h-1zM81 268h1v1h-1zM82 268h1v1h-1zM113 268h1v1h-1zM119 268h1v1h-1zM132 268h1v1h-1zM140 268h1v1h-1zM174 268h1v1h-1zM464 268h1v1h-1zM465 268h1v1h-1zM469 268h1v1h-1zM490 268h1v1h-1zM503 268h1v1h-1zM512 268h1v1h-1zM514 268h1v1h-1zM525 268h1v1h-1zM529 268h1v1h-1zM551 268h1v1h-1zM563 268h1v1h-1zM585 268h1v1h-1zM143 269h1v1h-1zM164 269h1v1h-1zM169 269h1v1h-1zM174 269h1v1h-1zM191 269h1v1h-1zM201 269h1v1h-1zM457 269h1v1h-1zM467 269h1v1h-1zM495 269h1v1h-1zM497 269h1v1h-1zM531 269h1v1h-1zM542 269h1v1h-1zM557 269h1v1h-1zM575 269h1v1h-1zM581 269h1v1h-1zM83 270h1v1h-1zM104 270h1v1h-1zM112 270h1v1h-1zM119 270h1v1h-1zM130 270h1v1h-1zM139 270h1v1h-1zM144 270h1v1h-1zM189 270h1v1h-1zM203 270h1v1h-1zM215 270h1v1h-1zM465 270h1v1h-1zM467 270h1v1h-1zM469 270h1v1h-1zM511 270h1v1h-1zM555 270h1v1h-1zM585 270h1v1h-1zM587 270h1v1h-1zM90 271h1v1h-1zM114 271h1v1h-1zM121 271h1v1h-1zM124 271h1v1h-1zM132 271h1v1h-1zM142 271h1v1h-1zM162 271h1v1h-1zM177 271h1v1h-1zM182 271h1v1h-1zM465 271h1v1h-1zM484 271h1v1h-1zM489 271h1v1h-1zM494 271h1v1h-1zM500 271h1v1h-1zM516 271h1v1h-1zM523 271h1v1h-1zM535 271h1v1h-1zM546 271h1v1h-1zM596 271h1v1h-1zM76 272h1v1h-1zM82 272h1v1h-1zM99 272h1v1h-1zM107 272h1v1h-1zM129 272h1v1h-1zM162 272h1v1h-1zM335 272h1v1h-1zM458 272h1v1h-1zM494 272h1v1h-1zM525 272h1v1h-1zM533 272h1v1h-1zM544 272h1v1h-1zM566 272h1v1h-1zM575 272h1v1h-1zM261 274h1v1h-1zM284 274h1v1h-1zM298 274h1v1h-1zM335 274h1v1h-1zM346 274h1v1h-1zM359 274h1v1h-1zM376 274h1v1h-1zM410 274h1v1h-1zM575 274h1v1h-1zM577 274h1v1h-1zM264 275h1v1h-1zM279 275h1v1h-1zM287 275h1v1h-1zM356 275h1v1h-1zM369 275h1v1h-1zM411 275h1v1h-1zM266 276h1v1h-1zM268 276h1v1h-1zM277 276h1v1h-1zM288 276h1v1h-1zM291 276h1v1h-1zM308 276h1v1h-1zM525 276h1v1h-1zM291 277h1v1h-1zM297 277h1v1h-1zM313 277h1v1h-1zM319 277h1v1h-1zM328 277h1v1h-1zM335 277h1v1h-1zM402 277h1v1h-1zM280 278h1v1h-1zM325 278h1v1h-1zM361 278h1v1h-1zM274 279h1v1h-1zM276 279h1v1h-1zM277 279h1v1h-1zM279 279h1v1h-1zM302 279h1v1h-1zM304 279h1v1h-1zM305 279h1v1h-1zM318 279h1v1h-1zM319 279h1v1h-1zM321 279h1v1h-1zM322 279h1v1h-1zM381 279h1v1h-1zM386 279h1v1h-1zM405 279h1v1h-1zM411 279h1v1h-1zM270 280h1v1h-1zM368 280h1v1h-1zM386 280h1v1h-1zM397 280h1v1h-1zM259 281h1v1h-1zM266 281h1v1h-1zM284 281h1v1h-1zM295 281h1v1h-1zM299 281h1v1h-1zM308 281h1v1h-1zM313 281h1v1h-1zM354 281h1v1h-1zM360 281h1v1h-1zM275 282h1v1h-1zM330 282h1v1h-1zM343 282h1v1h-1zM360 282h1v1h-1zM369 282h1v1h-1zM373 282h1v1h-1zM104 284h1v1h-1zM134 285h1v1h-1zM136 285h1v1h-1zM504 285h1v1h-1zM545 285h1v1h-1zM125 286h1v1h-1zM501 286h1v1h-1zM104 287h1v1h-1zM107 287h1v1h-1zM117 287h1v1h-1zM122 287h1v1h-1zM125 287h1v1h-1zM134 287h1v1h-1zM141 287h1v1h-1zM154 287h1v1h-1zM185 287h1v1h-1zM191 287h1v1h-1zM519 287h1v1h-1zM132 288h1v1h-1zM134 288h1v1h-1zM178 288h1v1h-1zM188 288h1v1h-1zM510 288h1v1h-1zM514 288h1v1h-1zM522 288h1v1h-1zM532 288h1v1h-1zM104 289h1v1h-1zM114 289h1v1h-1zM148 289h1v1h-1zM170 289h1v1h-1zM512 289h1v1h-1zM533 289h1v1h-1zM104 290h1v1h-1zM112 290h1v1h-1zM184 290h1v1h-1zM187 290h1v1h-1zM512 290h1v1h-1zM98 291h1v1h-1zM166 291h1v1h-1zM190 291h1v1h-1zM191 291h1v1h-1zM508 291h1v1h-1zM104 292h1v1h-1zM147 292h1v1h-1zM166 292h1v1h-1zM176 292h1v1h-1zM508 292h1v1h-1zM512 292h1v1h-1zM519 292h1v1h-1zM104 293h1v1h-1zM125 293h1v1h-1zM147 293h1v1h-1zM166 293h1v1h-1zM519 293h1v1h-1zM147 294h1v1h-1zM164 294h1v1h-1zM170 294h1v1h-1zM192 294h1v1h-1zM533 294h1v1h-1zM545 294h1v1h-1zM96 295h1v1h-1zM110 295h1v1h-1zM130 295h1v1h-1zM168 295h1v1h-1zM172 295h1v1h-1zM184 295h1v1h-1zM188 295h1v1h-1zM520 295h1v1h-1zM521 295h1v1h-1zM547 295h1v1h-1zM94 296h1v1h-1zM99 296h1v1h-1zM113 296h1v1h-1zM125 296h1v1h-1zM131 296h1v1h-1zM154 296h1v1h-1zM174 296h1v1h-1zM176 296h1v1h-1zM181 296h1v1h-1zM191 296h1v1h-1zM519 296h1v1h-1zM149 298h1v1h-1zM176 298h1v1h-1zM501 298h1v1h-1zM152 299h1v1h-1zM153 299h1v1h-1zM174 300h1v1h-1zM223 605h1v1h-1zM228 605h1v1h-1zM429 605h1v1h-1zM223 606h1v1h-1zM429 606h1v1h-1zM482 608h1v1h-1zM200 609h1v1h-1zM217 609h1v1h-1zM228 609h1v1h-1zM246 609h1v1h-1zM249 609h1v1h-1zM254 609h1v1h-1zM259 609h1v1h-1zM277 609h1v1h-1zM308 609h1v1h-1zM412 609h1v1h-1zM418 609h1v1h-1zM429 609h1v1h-1zM458 609h1v1h-1zM466 609h1v1h-1zM480 609h1v1h-1zM211 610h1v1h-1zM221 610h1v1h-1zM230 610h1v1h-1zM249 610h1v1h-1zM250 610h1v1h-1zM260 610h1v1h-1zM266 610h1v1h-1zM291 610h1v1h-1zM303 610h1v1h-1zM399 610h1v1h-1zM452 610h1v1h-1zM475 610h1v1h-1zM219 611h1v1h-1zM233 611h1v1h-1zM234 611h1v1h-1zM242 611h1v1h-1zM256 611h1v1h-1zM299 611h1v1h-1zM310 611h1v1h-1zM315 611h1v1h-1zM393 611h1v1h-1zM394 611h1v1h-1zM403 611h1v1h-1zM409 611h1v1h-1zM416 611h1v1h-1zM421 611h1v1h-1zM422 611h1v1h-1zM440 611h1v1h-1zM441 611h1v1h-1zM195 612h1v1h-1zM250 612h1v1h-1zM263 612h1v1h-1zM304 612h1v1h-1zM397 612h1v1h-1zM429 612h1v1h-1zM448 612h1v1h-1zM475 612h1v1h-1zM212 613h1v1h-1zM242 613h1v1h-1zM250 613h1v1h-1zM254 613h1v1h-1zM275 613h1v1h-1zM390 613h1v1h-1zM400 613h1v1h-1zM242 614h1v1h-1zM267 614h1v1h-1zM392 614h1v1h-1zM401 614h1v1h-1zM466 614h1v1h-1zM475 614h1v1h-1zM490 614h1v1h-1zM212 615h1v1h-1zM217 615h1v1h-1zM281 615h1v1h-1zM297 615h1v1h-1zM416 615h1v1h-1zM448 615h1v1h-1zM460 615h1v1h-1zM466 615h1v1h-1zM232 616h1v1h-1zM240 616h1v1h-1zM281 616h1v1h-1zM388 616h1v1h-1zM475 616h1v1h-1zM498 616h1v1h-1zM217 617h1v1h-1zM257 617h1v1h-1zM281 617h1v1h-1zM304 617h1v1h-1zM309 617h1v1h-1zM315 617h1v1h-1zM387 617h1v1h-1zM407 617h1v1h-1zM415 617h1v1h-1zM279 618h1v1h-1zM299 618h1v1h-1zM300 618h1v1h-1zM306 618h1v1h-1zM312 618h1v1h-1zM316 618h1v1h-1zM421 618h1v1h-1zM440 618h1v1h-1zM475 618h1v1h-1zM281 619h1v1h-1zM429 619h1v1h-1zM448 619h1v1h-1zM482 619h1v1h-1zM497 619h1v1h-1zM210 620h1v1h-1zM217 620h1v1h-1zM226 620h1v1h-1zM280 620h1v1h-1zM296 620h1v1h-1zM390 620h1v1h-1zM422 620h1v1h-1zM428 620h1v1h-1zM429 620h1v1h-1zM475 620h1v1h-1zM490 623h1v1h-1zM493 625h1v1h-1zM207 644h1v1h-1zM406 644h1v1h-1zM197 645h1v1h-1zM209 645h1v1h-1zM414 645h1v1h-1zM472 645h1v1h-1zM221 646h1v1h-1zM263 646h1v1h-1zM412 646h1v1h-1zM470 646h1v1h-1zM196 647h1v1h-1zM199 647h1v1h-1zM207 647h1v1h-1zM226 647h1v1h-1zM251 647h1v1h-1zM264 647h1v1h-1zM269 647h1v1h-1zM292 647h1v1h-1zM298 647h1v1h-1zM404 647h1v1h-1zM198 648h1v1h-1zM217 648h1v1h-1zM222 648h1v1h-1zM241 648h1v1h-1zM270 648h1v1h-1zM275 648h1v1h-1zM287 648h1v1h-1zM299 648h1v1h-1zM433 648h1v1h-1zM444 648h1v1h-1zM463 648h1v1h-1zM479 648h1v1h-1zM480 648h1v1h-1zM213 649h1v1h-1zM250 649h1v1h-1zM284 649h1v1h-1zM424 649h1v1h-1zM447 649h1v1h-1zM463 649h1v1h-1zM475 649h1v1h-1zM208 650h1v1h-1zM221 650h1v1h-1zM247 650h1v1h-1zM287 650h1v1h-1zM414 650h1v1h-1zM424 650h1v1h-1zM438 650h1v1h-1zM463 650h1v1h-1zM479 650h1v1h-1zM287 651h1v1h-1zM411 651h1v1h-1zM424 651h1v1h-1zM431 651h1v1h-1zM440 651h1v1h-1zM461 651h1v1h-1zM463 651h1v1h-1zM482 651h1v1h-1zM246 652h1v1h-1zM424 652h1v1h-1zM431 652h1v1h-1zM436 652h1v1h-1zM440 652h1v1h-1zM461 652h1v1h-1zM196 653h1v1h-1zM199 653h1v1h-1zM213 653h1v1h-1zM250 653h1v1h-1zM413 653h1v1h-1zM440 653h1v1h-1zM447 653h1v1h-1zM234 654h1v1h-1zM243 654h1v1h-1zM275 654h1v1h-1zM277 654h1v1h-1zM292 654h1v1h-1zM297 654h1v1h-1zM420 654h1v1h-1zM458 654h1v1h-1zM463 654h1v1h-1zM225 655h1v1h-1zM248 655h1v1h-1zM282 655h1v1h-1zM410 655h1v1h-1zM434 655h1v1h-1zM460 655h1v1h-1zM474 655h1v1h-1zM221 656h1v1h-1zM263 656h1v1h-1zM405 656h1v1h-1zM424 656h1v1h-1zM431 656h1v1h-1zM476 656h1v1h-1zM431 657h1v1h-1zM282 659h1v1h-1zM440 659h1v1h-1zM279 660h1v1h-1zM440 660h1v1h-1zM202 668h1v1h-1zM205 669h1v1h-1zM309 670h1v1h-1zM190 671h1v1h-1zM234 671h1v1h-1zM235 671h1v1h-1zM240 671h1v1h-1zM263 671h1v1h-1zM306 671h1v1h-1zM404 671h1v1h-1zM448 671h1v1h-1zM463 671h1v1h-1zM175 672h1v1h-1zM198 672h1v1h-1zM207 672h1v1h-1zM212 672h1v1h-1zM229 672h1v1h-1zM243 672h1v1h-1zM277 672h1v1h-1zM281 672h1v1h-1zM332 672h1v1h-1zM404 672h1v1h-1zM425 672h1v1h-1zM445 672h1v1h-1zM465 672h1v1h-1zM483 672h1v1h-1zM189 673h1v1h-1zM192 673h1v1h-1zM245 673h1v1h-1zM261 673h1v1h-1zM272 673h1v1h-1zM279 673h1v1h-1zM306 673h1v1h-1zM323 673h1v1h-1zM404 673h1v1h-1zM407 673h1v1h-1zM433 673h1v1h-1zM463 673h1v1h-1zM173 674h1v1h-1zM178 674h1v1h-1zM257 674h1v1h-1zM264 674h1v1h-1zM268 674h1v1h-1zM286 674h1v1h-1zM454 674h1v1h-1zM425 675h1v1h-1zM462 675h1v1h-1zM472 675h1v1h-1zM188 676h1v1h-1zM190 676h1v1h-1zM192 676h1v1h-1zM221 676h1v1h-1zM228 676h1v1h-1zM232 676h1v1h-1zM257 676h1v1h-1zM326 676h1v1h-1zM330 676h1v1h-1zM331 676h1v1h-1zM332 676h1v1h-1zM412 676h1v1h-1zM415 676h1v1h-1zM443 676h1v1h-1zM470 676h1v1h-1zM472 676h1v1h-1zM483 676h1v1h-1zM209 677h1v1h-1zM228 677h1v1h-1zM232 677h1v1h-1zM264 677h1v1h-1zM318 677h1v1h-1zM325 677h1v1h-1zM470 677h1v1h-1zM472 677h1v1h-1zM480 677h1v1h-1zM180 678h1v1h-1zM189 678h1v1h-1zM213 678h1v1h-1zM216 678h1v1h-1zM238 678h1v1h-1zM242 678h1v1h-1zM248 678h1v1h-1zM407 678h1v1h-1zM175 679h1v1h-1zM180 679h1v1h-1zM187 679h1v1h-1zM281 679h1v1h-1zM300 679h1v1h-1zM315 679h1v1h-1zM316 679h1v1h-1zM327 679h1v1h-1zM328 679h1v1h-1zM423 679h1v1h-1zM433 679h1v1h-1zM473 679h1v1h-1zM476 679h1v1h-1zM174 680h1v1h-1zM214 680h1v1h-1zM228 680h1v1h-1zM238 680h1v1h-1zM249 680h1v1h-1zM273 680h1v1h-1zM284 680h1v1h-1zM309 680h1v1h-1zM331 680h1v1h-1zM448 680h1v1h-1zM474 680h1v1h-1zM475 682h1v1h-1zM173 683h1v1h-1zM478 683h1v1h-1zM244 692h1v1h-1zM249 692h1v1h-1zM253 693h1v1h-1zM258 693h1v1h-1zM441 693h1v1h-1zM443 693h1v1h-1zM491 693h1v1h-1zM243 694h1v1h-1zM248 694h1v1h-1zM211 695h1v1h-1zM258 695h1v1h-1zM275 695h1v1h-1zM282 695h1v1h-1zM293 695h1v1h-1zM298 695h1v1h-1zM299 695h1v1h-1zM304 695h1v1h-1zM318 695h1v1h-1zM330 695h1v1h-1zM413 695h1v1h-1zM454 695h1v1h-1zM462 695h1v1h-1zM493 695h1v1h-1zM498 695h1v1h-1zM509 695h1v1h-1zM199 696h1v1h-1zM207 696h1v1h-1zM242 696h1v1h-1zM285 696h1v1h-1zM292 696h1v1h-1zM395 696h1v1h-1zM406 696h1v1h-1zM420 696h1v1h-1zM427 696h1v1h-1zM441 696h1v1h-1zM463 696h1v1h-1zM476 696h1v1h-1zM491 696h1v1h-1zM493 696h1v1h-1zM512 696h1v1h-1zM524 696h1v1h-1zM177 697h1v1h-1zM180 697h1v1h-1zM187 697h1v1h-1zM214 697h1v1h-1zM217 697h1v1h-1zM249 697h1v1h-1zM269 697h1v1h-1zM291 697h1v1h-1zM316 697h1v1h-1zM364 697h1v1h-1zM406 697h1v1h-1zM432 697h1v1h-1zM441 697h1v1h-1zM446 697h1v1h-1zM466 697h1v1h-1zM473 697h1v1h-1zM491 697h1v1h-1zM507 697h1v1h-1zM209 698h1v1h-1zM214 698h1v1h-1zM241 698h1v1h-1zM289 698h1v1h-1zM291 698h1v1h-1zM379 698h1v1h-1zM384 698h1v1h-1zM461 698h1v1h-1zM466 698h1v1h-1zM497 698h1v1h-1zM502 698h1v1h-1zM171 699h1v1h-1zM196 699h1v1h-1zM248 699h1v1h-1zM255 699h1v1h-1zM299 699h1v1h-1zM406 699h1v1h-1zM461 699h1v1h-1zM466 699h1v1h-1zM479 699h1v1h-1zM185 700h1v1h-1zM218 700h1v1h-1zM240 700h1v1h-1zM272 700h1v1h-1zM275 700h1v1h-1zM279 700h1v1h-1zM291 700h1v1h-1zM326 700h1v1h-1zM328 700h1v1h-1zM406 700h1v1h-1zM413 700h1v1h-1zM474 700h1v1h-1zM512 700h1v1h-1zM513 700h1v1h-1zM266 701h1v1h-1zM289 701h1v1h-1zM304 701h1v1h-1zM371 701h1v1h-1zM441 701h1v1h-1zM502 701h1v1h-1zM514 701h1v1h-1zM196 702h1v1h-1zM242 702h1v1h-1zM294 702h1v1h-1zM432 702h1v1h-1zM456 702h1v1h-1zM470 702h1v1h-1zM491 702h1v1h-1zM509 702h1v1h-1zM171 703h1v1h-1zM181 703h1v1h-1zM253 703h1v1h-1zM279 703h1v1h-1zM295 703h1v1h-1zM296 703h1v1h-1zM304 703h1v1h-1zM326 703h1v1h-1zM427 703h1v1h-1zM433 703h1v1h-1zM435 703h1v1h-1zM441 703h1v1h-1zM461 703h1v1h-1zM476 703h1v1h-1zM497 703h1v1h-1zM223 704h1v1h-1zM250 704h1v1h-1zM289 704h1v1h-1zM370 704h1v1h-1zM441 704h1v1h-1zM461 704h1v1h-1zM497 704h1v1h-1zM502 704h1v1h-1zM514 704h1v1h-1zM494 716h1v1h-1zM494 718h1v1h-1zM381 719h1v1h-1zM398 719h1v1h-1zM413 719h1v1h-1zM445 719h1v1h-1zM482 719h1v1h-1zM494 719h1v1h-1zM401 720h1v1h-1zM444 720h1v1h-1zM463 720h1v1h-1zM494 720h1v1h-1zM499 720h1v1h-1zM505 720h1v1h-1zM508 720h1v1h-1zM398 721h1v1h-1zM403 721h1v1h-1zM461 721h1v1h-1zM466 721h1v1h-1zM472 721h1v1h-1zM483 721h1v1h-1zM415 722h1v1h-1zM420 722h1v1h-1zM428 722h1v1h-1zM434 722h1v1h-1zM443 722h1v1h-1zM472 722h1v1h-1zM476 722h1v1h-1zM494 722h1v1h-1zM500 722h1v1h-1zM420 723h1v1h-1zM501 723h1v1h-1zM450 724h1v1h-1zM454 724h1v1h-1zM469 724h1v1h-1zM475 724h1v1h-1zM498 724h1v1h-1zM421 725h1v1h-1zM383 726h1v1h-1zM447 726h1v1h-1zM452 726h1v1h-1zM465 726h1v1h-1zM474 726h1v1h-1zM494 726h1v1h-1zM380 727h1v1h-1zM385 727h1v1h-1zM408 727h1v1h-1zM449 727h1v1h-1zM471 727h1v1h-1zM494 727h1v1h-1zM413 728h1v1h-1zM423 728h1v1h-1zM458 728h1v1h-1zM473 728h1v1h-1zM500 729h1v1h-1zM380 730h1v1h-1zM496 731h1v1h-1zM497 731h1v1h-1zM382 732h1v1h-1zM501 732h1v1h-1z"/>
</svg>
</body></html>
